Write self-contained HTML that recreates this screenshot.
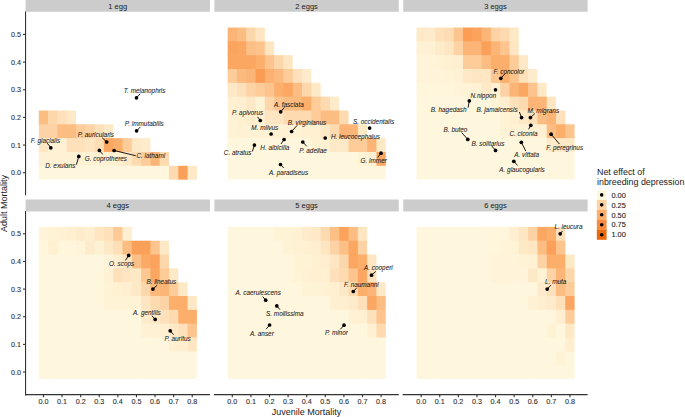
<!DOCTYPE html>
<html><head><meta charset="utf-8"><style>
html,body{margin:0;padding:0;background:#fff;width:685px;height:417px;overflow:hidden}
svg{display:block}
</style></head><body>
<svg width="685" height="417" viewBox="0 0 685 417" font-family='"Liberation Sans", sans-serif'><rect width="685" height="417" fill="#fff"/><rect x="38.80" y="110.49" width="10.00" height="14.53" fill="#fcbd82"/><rect x="48.10" y="110.49" width="10.00" height="14.53" fill="#fdd7ac"/><rect x="57.40" y="110.49" width="10.00" height="14.53" fill="#fee1bb"/><rect x="66.70" y="110.49" width="9.30" height="14.53" fill="#fee9c7"/><rect x="38.80" y="124.31" width="10.00" height="14.53" fill="#fdd3a5"/><rect x="48.10" y="124.31" width="10.00" height="14.53" fill="#fdd3a5"/><rect x="57.40" y="124.31" width="10.00" height="14.53" fill="#fcbd82"/><rect x="66.70" y="124.31" width="10.00" height="14.53" fill="#fcbd82"/><rect x="76.00" y="124.31" width="10.00" height="14.53" fill="#fdcc99"/><rect x="85.30" y="124.31" width="10.00" height="14.53" fill="#fdd3a5"/><rect x="94.60" y="124.31" width="10.00" height="14.53" fill="#fee1bb"/><rect x="103.90" y="124.31" width="9.30" height="14.53" fill="#fee9c7"/><rect x="38.80" y="138.14" width="10.00" height="14.53" fill="#fee6c2"/><rect x="48.10" y="138.14" width="10.00" height="14.53" fill="#fff1d4"/><rect x="57.40" y="138.14" width="10.00" height="14.53" fill="#fff1d4"/><rect x="66.70" y="138.14" width="10.00" height="14.53" fill="#fee1bb"/><rect x="76.00" y="138.14" width="10.00" height="14.53" fill="#fee1bb"/><rect x="85.30" y="138.14" width="10.00" height="14.53" fill="#fee6c2"/><rect x="94.60" y="138.14" width="10.00" height="14.53" fill="#feddb5"/><rect x="103.90" y="138.14" width="10.00" height="14.53" fill="#fba762"/><rect x="113.20" y="138.14" width="10.00" height="14.53" fill="#fcae6b"/><rect x="122.50" y="138.14" width="10.00" height="14.53" fill="#fdcc99"/><rect x="131.80" y="138.14" width="10.00" height="14.53" fill="#fee9c7"/><rect x="141.10" y="138.14" width="9.30" height="14.53" fill="#feebcb"/><rect x="38.80" y="151.96" width="10.00" height="14.53" fill="#fff1d4"/><rect x="48.10" y="151.96" width="10.00" height="14.53" fill="#fff1d4"/><rect x="57.40" y="151.96" width="10.00" height="14.53" fill="#fff1d4"/><rect x="66.70" y="151.96" width="10.00" height="14.53" fill="#fff1d4"/><rect x="76.00" y="151.96" width="10.00" height="14.53" fill="#fff1d4"/><rect x="85.30" y="151.96" width="10.00" height="14.53" fill="#fff1d4"/><rect x="94.60" y="151.96" width="10.00" height="14.53" fill="#fff1d4"/><rect x="103.90" y="151.96" width="10.00" height="14.53" fill="#fff0d2"/><rect x="113.20" y="151.96" width="10.00" height="14.53" fill="#fff0d2"/><rect x="122.50" y="151.96" width="10.00" height="14.53" fill="#fee9c7"/><rect x="131.80" y="151.96" width="10.00" height="14.53" fill="#fddab0"/><rect x="141.10" y="151.96" width="10.00" height="14.53" fill="#fdcc99"/><rect x="150.40" y="151.96" width="10.00" height="14.53" fill="#fcb577"/><rect x="159.70" y="151.96" width="9.30" height="14.53" fill="#fddab0"/><rect x="38.80" y="165.79" width="10.00" height="13.83" fill="#fff7dd"/><rect x="48.10" y="165.79" width="10.00" height="13.83" fill="#fff7dd"/><rect x="57.40" y="165.79" width="10.00" height="13.83" fill="#fff7dd"/><rect x="66.70" y="165.79" width="10.00" height="13.83" fill="#fff7dd"/><rect x="76.00" y="165.79" width="10.00" height="13.83" fill="#fff7dd"/><rect x="85.30" y="165.79" width="10.00" height="13.83" fill="#fff7dd"/><rect x="94.60" y="165.79" width="10.00" height="13.83" fill="#fff7dd"/><rect x="103.90" y="165.79" width="10.00" height="13.83" fill="#fff7dd"/><rect x="113.20" y="165.79" width="10.00" height="13.83" fill="#fff7dd"/><rect x="122.50" y="165.79" width="10.00" height="13.83" fill="#fff7dd"/><rect x="131.80" y="165.79" width="10.00" height="13.83" fill="#fff7dd"/><rect x="141.10" y="165.79" width="10.00" height="13.83" fill="#fff7dd"/><rect x="150.40" y="165.79" width="10.00" height="13.83" fill="#fff7dd"/><rect x="159.70" y="165.79" width="10.00" height="13.83" fill="#fff7dd"/><rect x="169.00" y="165.79" width="10.00" height="13.83" fill="#fddab0"/><rect x="178.30" y="165.79" width="10.00" height="13.83" fill="#fba059"/><rect x="187.60" y="165.79" width="9.30" height="13.83" fill="#fee9c7"/><rect x="227.65" y="27.54" width="10.00" height="14.53" fill="#fcb577"/><rect x="236.95" y="27.54" width="10.00" height="14.53" fill="#fcbd82"/><rect x="246.25" y="27.54" width="10.00" height="14.53" fill="#fdd7ac"/><rect x="255.55" y="27.54" width="9.30" height="14.53" fill="#fee6c2"/><rect x="227.65" y="41.36" width="10.00" height="14.53" fill="#fba45e"/><rect x="236.95" y="41.36" width="10.00" height="14.53" fill="#fba762"/><rect x="246.25" y="41.36" width="10.00" height="14.53" fill="#fcc087"/><rect x="255.55" y="41.36" width="10.00" height="14.53" fill="#fdc48e"/><rect x="264.85" y="41.36" width="9.30" height="14.53" fill="#fee6c2"/><rect x="227.65" y="55.19" width="10.00" height="14.53" fill="#fba762"/><rect x="236.95" y="55.19" width="10.00" height="14.53" fill="#fba762"/><rect x="246.25" y="55.19" width="10.00" height="14.53" fill="#fba762"/><rect x="255.55" y="55.19" width="10.00" height="14.53" fill="#fcae6b"/><rect x="264.85" y="55.19" width="10.00" height="14.53" fill="#fdc48e"/><rect x="274.15" y="55.19" width="10.00" height="14.53" fill="#fdd7ac"/><rect x="283.45" y="55.19" width="9.30" height="14.53" fill="#fee6c2"/><rect x="227.65" y="69.01" width="10.00" height="14.53" fill="#fdcc99"/><rect x="236.95" y="69.01" width="10.00" height="14.53" fill="#fcba7e"/><rect x="246.25" y="69.01" width="10.00" height="14.53" fill="#fcb577"/><rect x="255.55" y="69.01" width="10.00" height="14.53" fill="#fa9c53"/><rect x="264.85" y="69.01" width="10.00" height="14.53" fill="#fcb170"/><rect x="274.15" y="69.01" width="10.00" height="14.53" fill="#fcba7e"/><rect x="283.45" y="69.01" width="10.00" height="14.53" fill="#fdcc99"/><rect x="292.75" y="69.01" width="10.00" height="14.53" fill="#fee1bb"/><rect x="302.05" y="69.01" width="9.30" height="14.53" fill="#feebcb"/><rect x="227.65" y="82.84" width="10.00" height="14.53" fill="#fee9c7"/><rect x="236.95" y="82.84" width="10.00" height="14.53" fill="#fee1bb"/><rect x="246.25" y="82.84" width="10.00" height="14.53" fill="#fdd3a5"/><rect x="255.55" y="82.84" width="10.00" height="14.53" fill="#fdcc99"/><rect x="264.85" y="82.84" width="10.00" height="14.53" fill="#fdc48e"/><rect x="274.15" y="82.84" width="10.00" height="14.53" fill="#fcae6b"/><rect x="283.45" y="82.84" width="10.00" height="14.53" fill="#fba762"/><rect x="292.75" y="82.84" width="10.00" height="14.53" fill="#fcbd82"/><rect x="302.05" y="82.84" width="10.00" height="14.53" fill="#fdd7ac"/><rect x="311.35" y="82.84" width="9.30" height="14.53" fill="#fee9c7"/><rect x="227.65" y="96.66" width="10.00" height="14.53" fill="#fff0d2"/><rect x="236.95" y="96.66" width="10.00" height="14.53" fill="#ffeed0"/><rect x="246.25" y="96.66" width="10.00" height="14.53" fill="#fee9c7"/><rect x="255.55" y="96.66" width="10.00" height="14.53" fill="#fff3d6"/><rect x="264.85" y="96.66" width="10.00" height="14.53" fill="#fdd6a9"/><rect x="274.15" y="96.66" width="10.00" height="14.53" fill="#fdc48e"/><rect x="283.45" y="96.66" width="10.00" height="14.53" fill="#fcbd82"/><rect x="292.75" y="96.66" width="10.00" height="14.53" fill="#fcba7e"/><rect x="302.05" y="96.66" width="10.00" height="14.53" fill="#fcae6b"/><rect x="311.35" y="96.66" width="10.00" height="14.53" fill="#fdcc99"/><rect x="320.65" y="96.66" width="10.00" height="14.53" fill="#fddab0"/><rect x="329.95" y="96.66" width="9.30" height="14.53" fill="#feebcb"/><rect x="227.65" y="110.49" width="10.00" height="14.53" fill="#fff3d6"/><rect x="236.95" y="110.49" width="10.00" height="14.53" fill="#fff0d2"/><rect x="246.25" y="110.49" width="10.00" height="14.53" fill="#feedcd"/><rect x="255.55" y="110.49" width="10.00" height="14.53" fill="#fff0d2"/><rect x="264.85" y="110.49" width="10.00" height="14.53" fill="#fee6c2"/><rect x="274.15" y="110.49" width="10.00" height="14.53" fill="#fee6c2"/><rect x="283.45" y="110.49" width="10.00" height="14.53" fill="#fddab0"/><rect x="292.75" y="110.49" width="10.00" height="14.53" fill="#fddab0"/><rect x="302.05" y="110.49" width="10.00" height="14.53" fill="#fddab0"/><rect x="311.35" y="110.49" width="10.00" height="14.53" fill="#fdcc99"/><rect x="320.65" y="110.49" width="10.00" height="14.53" fill="#fcbd82"/><rect x="329.95" y="110.49" width="10.00" height="14.53" fill="#fcbd82"/><rect x="339.25" y="110.49" width="9.30" height="14.53" fill="#fddab0"/><rect x="227.65" y="124.31" width="10.00" height="14.53" fill="#fff3d6"/><rect x="236.95" y="124.31" width="10.00" height="14.53" fill="#fff1d4"/><rect x="246.25" y="124.31" width="10.00" height="14.53" fill="#fff1d4"/><rect x="255.55" y="124.31" width="10.00" height="14.53" fill="#fff1d4"/><rect x="264.85" y="124.31" width="10.00" height="14.53" fill="#fff1d4"/><rect x="274.15" y="124.31" width="10.00" height="14.53" fill="#fff1d4"/><rect x="283.45" y="124.31" width="10.00" height="14.53" fill="#fff1d4"/><rect x="292.75" y="124.31" width="10.00" height="14.53" fill="#fff3d6"/><rect x="302.05" y="124.31" width="10.00" height="14.53" fill="#fff0d2"/><rect x="311.35" y="124.31" width="10.00" height="14.53" fill="#fff0d2"/><rect x="320.65" y="124.31" width="10.00" height="14.53" fill="#fee9c7"/><rect x="329.95" y="124.31" width="10.00" height="14.53" fill="#fddab0"/><rect x="339.25" y="124.31" width="10.00" height="14.53" fill="#fcb577"/><rect x="348.55" y="124.31" width="10.00" height="14.53" fill="#fcb577"/><rect x="357.85" y="124.31" width="9.30" height="14.53" fill="#fee9c7"/><rect x="227.65" y="138.14" width="10.00" height="14.53" fill="#fff7dd"/><rect x="236.95" y="138.14" width="10.00" height="14.53" fill="#fff7dd"/><rect x="246.25" y="138.14" width="10.00" height="14.53" fill="#fff7dd"/><rect x="255.55" y="138.14" width="10.00" height="14.53" fill="#fff7dd"/><rect x="264.85" y="138.14" width="10.00" height="14.53" fill="#fff7dd"/><rect x="274.15" y="138.14" width="10.00" height="14.53" fill="#fff7dd"/><rect x="283.45" y="138.14" width="10.00" height="14.53" fill="#fff7dd"/><rect x="292.75" y="138.14" width="10.00" height="14.53" fill="#fff7dd"/><rect x="302.05" y="138.14" width="10.00" height="14.53" fill="#fff7dd"/><rect x="311.35" y="138.14" width="10.00" height="14.53" fill="#fff0d2"/><rect x="320.65" y="138.14" width="10.00" height="14.53" fill="#fff0d2"/><rect x="329.95" y="138.14" width="10.00" height="14.53" fill="#fee9c7"/><rect x="339.25" y="138.14" width="10.00" height="14.53" fill="#fee9c7"/><rect x="348.55" y="138.14" width="10.00" height="14.53" fill="#fdcc99"/><rect x="357.85" y="138.14" width="10.00" height="14.53" fill="#fdcc99"/><rect x="367.15" y="138.14" width="10.00" height="14.53" fill="#fcb577"/><rect x="376.45" y="138.14" width="9.30" height="14.53" fill="#fee9c7"/><rect x="227.65" y="151.96" width="10.00" height="14.53" fill="#fff7dd"/><rect x="236.95" y="151.96" width="10.00" height="14.53" fill="#fff7dd"/><rect x="246.25" y="151.96" width="10.00" height="14.53" fill="#fff7dd"/><rect x="255.55" y="151.96" width="10.00" height="14.53" fill="#fff7dd"/><rect x="264.85" y="151.96" width="10.00" height="14.53" fill="#fff7dd"/><rect x="274.15" y="151.96" width="10.00" height="14.53" fill="#fff7dd"/><rect x="283.45" y="151.96" width="10.00" height="14.53" fill="#fff7dd"/><rect x="292.75" y="151.96" width="10.00" height="14.53" fill="#fff7dd"/><rect x="302.05" y="151.96" width="10.00" height="14.53" fill="#fff7dd"/><rect x="311.35" y="151.96" width="10.00" height="14.53" fill="#fff7dd"/><rect x="320.65" y="151.96" width="10.00" height="14.53" fill="#fff7dd"/><rect x="329.95" y="151.96" width="10.00" height="14.53" fill="#fff7dd"/><rect x="339.25" y="151.96" width="10.00" height="14.53" fill="#fff7dd"/><rect x="348.55" y="151.96" width="10.00" height="14.53" fill="#fff7dd"/><rect x="357.85" y="151.96" width="10.00" height="14.53" fill="#fff3d6"/><rect x="367.15" y="151.96" width="10.00" height="14.53" fill="#fff0d2"/><rect x="376.45" y="151.96" width="9.30" height="14.53" fill="#fba762"/><rect x="227.65" y="165.79" width="10.00" height="13.83" fill="#fff7dd"/><rect x="236.95" y="165.79" width="10.00" height="13.83" fill="#fff7dd"/><rect x="246.25" y="165.79" width="10.00" height="13.83" fill="#fff7dd"/><rect x="255.55" y="165.79" width="10.00" height="13.83" fill="#fff7dd"/><rect x="264.85" y="165.79" width="10.00" height="13.83" fill="#fff7dd"/><rect x="274.15" y="165.79" width="10.00" height="13.83" fill="#fff7dd"/><rect x="283.45" y="165.79" width="10.00" height="13.83" fill="#fff7dd"/><rect x="292.75" y="165.79" width="10.00" height="13.83" fill="#fff7dd"/><rect x="302.05" y="165.79" width="10.00" height="13.83" fill="#fff7dd"/><rect x="311.35" y="165.79" width="10.00" height="13.83" fill="#fff7dd"/><rect x="320.65" y="165.79" width="10.00" height="13.83" fill="#fff7dd"/><rect x="329.95" y="165.79" width="10.00" height="13.83" fill="#fff7dd"/><rect x="339.25" y="165.79" width="10.00" height="13.83" fill="#fff7dd"/><rect x="348.55" y="165.79" width="10.00" height="13.83" fill="#fff7dd"/><rect x="357.85" y="165.79" width="10.00" height="13.83" fill="#fff7dd"/><rect x="367.15" y="165.79" width="10.00" height="13.83" fill="#fff7dd"/><rect x="376.45" y="165.79" width="9.30" height="13.83" fill="#fff7dd"/><rect x="416.50" y="27.54" width="10.00" height="14.53" fill="#fee9c7"/><rect x="425.80" y="27.54" width="10.00" height="14.53" fill="#feebcb"/><rect x="435.10" y="27.54" width="10.00" height="14.53" fill="#fee1bb"/><rect x="444.40" y="27.54" width="10.00" height="14.53" fill="#feddb5"/><rect x="453.70" y="27.54" width="10.00" height="14.53" fill="#fdc48e"/><rect x="463.00" y="27.54" width="10.00" height="14.53" fill="#fb9d55"/><rect x="472.30" y="27.54" width="10.00" height="14.53" fill="#fba35c"/><rect x="481.60" y="27.54" width="10.00" height="14.53" fill="#fcb577"/><rect x="490.90" y="27.54" width="10.00" height="14.53" fill="#fdd3a5"/><rect x="500.20" y="27.54" width="10.00" height="14.53" fill="#fddab0"/><rect x="509.50" y="27.54" width="9.30" height="14.53" fill="#fee9c7"/><rect x="416.50" y="41.36" width="10.00" height="14.53" fill="#fff1d4"/><rect x="425.80" y="41.36" width="10.00" height="14.53" fill="#fff1d4"/><rect x="435.10" y="41.36" width="10.00" height="14.53" fill="#feebcb"/><rect x="444.40" y="41.36" width="10.00" height="14.53" fill="#fee6c2"/><rect x="453.70" y="41.36" width="10.00" height="14.53" fill="#fdd3a5"/><rect x="463.00" y="41.36" width="10.00" height="14.53" fill="#fcb577"/><rect x="472.30" y="41.36" width="10.00" height="14.53" fill="#fcb577"/><rect x="481.60" y="41.36" width="10.00" height="14.53" fill="#fba059"/><rect x="490.90" y="41.36" width="10.00" height="14.53" fill="#fcb577"/><rect x="500.20" y="41.36" width="10.00" height="14.53" fill="#fdc48e"/><rect x="509.50" y="41.36" width="9.30" height="14.53" fill="#fee6c2"/><rect x="416.50" y="55.19" width="10.00" height="14.53" fill="#fff4d9"/><rect x="425.80" y="55.19" width="10.00" height="14.53" fill="#fff4d9"/><rect x="435.10" y="55.19" width="10.00" height="14.53" fill="#fff3d6"/><rect x="444.40" y="55.19" width="10.00" height="14.53" fill="#fff0d2"/><rect x="453.70" y="55.19" width="10.00" height="14.53" fill="#ffeed0"/><rect x="463.00" y="55.19" width="10.00" height="14.53" fill="#fdcc99"/><rect x="472.30" y="55.19" width="10.00" height="14.53" fill="#fdcc99"/><rect x="481.60" y="55.19" width="10.00" height="14.53" fill="#fcbd82"/><rect x="490.90" y="55.19" width="10.00" height="14.53" fill="#fcae6b"/><rect x="500.20" y="55.19" width="10.00" height="14.53" fill="#fcae6b"/><rect x="509.50" y="55.19" width="10.00" height="14.53" fill="#fdcc99"/><rect x="518.80" y="55.19" width="9.30" height="14.53" fill="#fee9c7"/><rect x="416.50" y="69.01" width="10.00" height="14.53" fill="#fff4d9"/><rect x="425.80" y="69.01" width="10.00" height="14.53" fill="#fff4d9"/><rect x="435.10" y="69.01" width="10.00" height="14.53" fill="#fff4d9"/><rect x="444.40" y="69.01" width="10.00" height="14.53" fill="#fff3d6"/><rect x="453.70" y="69.01" width="10.00" height="14.53" fill="#fff1d4"/><rect x="463.00" y="69.01" width="10.00" height="14.53" fill="#fee9c7"/><rect x="472.30" y="69.01" width="10.00" height="14.53" fill="#fee6c2"/><rect x="481.60" y="69.01" width="10.00" height="14.53" fill="#fee6c2"/><rect x="490.90" y="69.01" width="10.00" height="14.53" fill="#fdc792"/><rect x="500.20" y="69.01" width="10.00" height="14.53" fill="#fcae6b"/><rect x="509.50" y="69.01" width="10.00" height="14.53" fill="#fdc48e"/><rect x="518.80" y="69.01" width="10.00" height="14.53" fill="#fee1bb"/><rect x="528.10" y="69.01" width="9.30" height="14.53" fill="#feebcb"/><rect x="416.50" y="82.84" width="10.00" height="14.53" fill="#fff6db"/><rect x="425.80" y="82.84" width="10.00" height="14.53" fill="#fff6db"/><rect x="435.10" y="82.84" width="10.00" height="14.53" fill="#fff6db"/><rect x="444.40" y="82.84" width="10.00" height="14.53" fill="#fff6db"/><rect x="453.70" y="82.84" width="10.00" height="14.53" fill="#fff4d9"/><rect x="463.00" y="82.84" width="10.00" height="14.53" fill="#fff3d6"/><rect x="472.30" y="82.84" width="10.00" height="14.53" fill="#fff1d4"/><rect x="481.60" y="82.84" width="10.00" height="14.53" fill="#fee9c7"/><rect x="490.90" y="82.84" width="10.00" height="14.53" fill="#fff0d2"/><rect x="500.20" y="82.84" width="10.00" height="14.53" fill="#fdd3a5"/><rect x="509.50" y="82.84" width="10.00" height="14.53" fill="#fcb577"/><rect x="518.80" y="82.84" width="10.00" height="14.53" fill="#fba762"/><rect x="528.10" y="82.84" width="10.00" height="14.53" fill="#fdc48e"/><rect x="537.40" y="82.84" width="9.30" height="14.53" fill="#fee9c7"/><rect x="416.50" y="96.66" width="10.00" height="14.53" fill="#fff7dd"/><rect x="425.80" y="96.66" width="10.00" height="14.53" fill="#fff7dd"/><rect x="435.10" y="96.66" width="10.00" height="14.53" fill="#fff7dd"/><rect x="444.40" y="96.66" width="10.00" height="14.53" fill="#fff7dd"/><rect x="453.70" y="96.66" width="10.00" height="14.53" fill="#fff7dd"/><rect x="463.00" y="96.66" width="10.00" height="14.53" fill="#fff7dd"/><rect x="472.30" y="96.66" width="10.00" height="14.53" fill="#fff7dd"/><rect x="481.60" y="96.66" width="10.00" height="14.53" fill="#fff7dd"/><rect x="490.90" y="96.66" width="10.00" height="14.53" fill="#fff3d6"/><rect x="500.20" y="96.66" width="10.00" height="14.53" fill="#ffeed0"/><rect x="509.50" y="96.66" width="10.00" height="14.53" fill="#fee1bb"/><rect x="518.80" y="96.66" width="10.00" height="14.53" fill="#fddab0"/><rect x="528.10" y="96.66" width="10.00" height="14.53" fill="#fcb577"/><rect x="537.40" y="96.66" width="10.00" height="14.53" fill="#fcb577"/><rect x="546.70" y="96.66" width="9.30" height="14.53" fill="#fee6c2"/><rect x="416.50" y="110.49" width="10.00" height="14.53" fill="#fff7dd"/><rect x="425.80" y="110.49" width="10.00" height="14.53" fill="#fff7dd"/><rect x="435.10" y="110.49" width="10.00" height="14.53" fill="#fff7dd"/><rect x="444.40" y="110.49" width="10.00" height="14.53" fill="#fff7dd"/><rect x="453.70" y="110.49" width="10.00" height="14.53" fill="#fff7dd"/><rect x="463.00" y="110.49" width="10.00" height="14.53" fill="#fff7dd"/><rect x="472.30" y="110.49" width="10.00" height="14.53" fill="#fff7dd"/><rect x="481.60" y="110.49" width="10.00" height="14.53" fill="#fff7dd"/><rect x="490.90" y="110.49" width="10.00" height="14.53" fill="#fff7dd"/><rect x="500.20" y="110.49" width="10.00" height="14.53" fill="#fff3d6"/><rect x="509.50" y="110.49" width="10.00" height="14.53" fill="#fff0d2"/><rect x="518.80" y="110.49" width="10.00" height="14.53" fill="#fee9c7"/><rect x="528.10" y="110.49" width="10.00" height="14.53" fill="#fee1bb"/><rect x="537.40" y="110.49" width="10.00" height="14.53" fill="#fcbd82"/><rect x="546.70" y="110.49" width="10.00" height="14.53" fill="#fcb577"/><rect x="556.00" y="110.49" width="9.30" height="14.53" fill="#fee1bb"/><rect x="416.50" y="124.31" width="10.00" height="14.53" fill="#fff7dd"/><rect x="425.80" y="124.31" width="10.00" height="14.53" fill="#fff7dd"/><rect x="435.10" y="124.31" width="10.00" height="14.53" fill="#fff7dd"/><rect x="444.40" y="124.31" width="10.00" height="14.53" fill="#fff7dd"/><rect x="453.70" y="124.31" width="10.00" height="14.53" fill="#fff7dd"/><rect x="463.00" y="124.31" width="10.00" height="14.53" fill="#fff7dd"/><rect x="472.30" y="124.31" width="10.00" height="14.53" fill="#fff7dd"/><rect x="481.60" y="124.31" width="10.00" height="14.53" fill="#fff7dd"/><rect x="490.90" y="124.31" width="10.00" height="14.53" fill="#fff7dd"/><rect x="500.20" y="124.31" width="10.00" height="14.53" fill="#fff3d6"/><rect x="509.50" y="124.31" width="10.00" height="14.53" fill="#fff1d4"/><rect x="518.80" y="124.31" width="10.00" height="14.53" fill="#fff1d4"/><rect x="528.10" y="124.31" width="10.00" height="14.53" fill="#fff0d2"/><rect x="537.40" y="124.31" width="10.00" height="14.53" fill="#fff0d2"/><rect x="546.70" y="124.31" width="10.00" height="14.53" fill="#fcbd82"/><rect x="556.00" y="124.31" width="10.00" height="14.53" fill="#fcae6b"/><rect x="565.30" y="124.31" width="9.30" height="14.53" fill="#fdc48e"/><rect x="416.50" y="138.14" width="10.00" height="14.53" fill="#fff7dd"/><rect x="425.80" y="138.14" width="10.00" height="14.53" fill="#fff7dd"/><rect x="435.10" y="138.14" width="10.00" height="14.53" fill="#fff7dd"/><rect x="444.40" y="138.14" width="10.00" height="14.53" fill="#fff7dd"/><rect x="453.70" y="138.14" width="10.00" height="14.53" fill="#fff7dd"/><rect x="463.00" y="138.14" width="10.00" height="14.53" fill="#fff7dd"/><rect x="472.30" y="138.14" width="10.00" height="14.53" fill="#fff7dd"/><rect x="481.60" y="138.14" width="10.00" height="14.53" fill="#fff7dd"/><rect x="490.90" y="138.14" width="10.00" height="14.53" fill="#fff7dd"/><rect x="500.20" y="138.14" width="10.00" height="14.53" fill="#fff7dd"/><rect x="509.50" y="138.14" width="10.00" height="14.53" fill="#fff7dd"/><rect x="518.80" y="138.14" width="10.00" height="14.53" fill="#fff7dd"/><rect x="528.10" y="138.14" width="10.00" height="14.53" fill="#fff7dd"/><rect x="537.40" y="138.14" width="10.00" height="14.53" fill="#fff7dd"/><rect x="546.70" y="138.14" width="10.00" height="14.53" fill="#feebcb"/><rect x="556.00" y="138.14" width="10.00" height="14.53" fill="#fee9c7"/><rect x="565.30" y="138.14" width="9.30" height="14.53" fill="#fee9c7"/><rect x="416.50" y="151.96" width="10.00" height="14.53" fill="#fff7dd"/><rect x="425.80" y="151.96" width="10.00" height="14.53" fill="#fff7dd"/><rect x="435.10" y="151.96" width="10.00" height="14.53" fill="#fff7dd"/><rect x="444.40" y="151.96" width="10.00" height="14.53" fill="#fff7dd"/><rect x="453.70" y="151.96" width="10.00" height="14.53" fill="#fff7dd"/><rect x="463.00" y="151.96" width="10.00" height="14.53" fill="#fff7dd"/><rect x="472.30" y="151.96" width="10.00" height="14.53" fill="#fff7dd"/><rect x="481.60" y="151.96" width="10.00" height="14.53" fill="#fff7dd"/><rect x="490.90" y="151.96" width="10.00" height="14.53" fill="#fff7dd"/><rect x="500.20" y="151.96" width="10.00" height="14.53" fill="#fff7dd"/><rect x="509.50" y="151.96" width="10.00" height="14.53" fill="#fff7dd"/><rect x="518.80" y="151.96" width="10.00" height="14.53" fill="#fff7dd"/><rect x="528.10" y="151.96" width="10.00" height="14.53" fill="#fff7dd"/><rect x="537.40" y="151.96" width="10.00" height="14.53" fill="#fff7dd"/><rect x="546.70" y="151.96" width="10.00" height="14.53" fill="#fff7dd"/><rect x="556.00" y="151.96" width="10.00" height="14.53" fill="#fff7dd"/><rect x="565.30" y="151.96" width="9.30" height="14.53" fill="#fff7dd"/><rect x="416.50" y="165.79" width="10.00" height="13.83" fill="#fff7dd"/><rect x="425.80" y="165.79" width="10.00" height="13.83" fill="#fff7dd"/><rect x="435.10" y="165.79" width="10.00" height="13.83" fill="#fff7dd"/><rect x="444.40" y="165.79" width="10.00" height="13.83" fill="#fff7dd"/><rect x="453.70" y="165.79" width="10.00" height="13.83" fill="#fff7dd"/><rect x="463.00" y="165.79" width="10.00" height="13.83" fill="#fff7dd"/><rect x="472.30" y="165.79" width="10.00" height="13.83" fill="#fff7dd"/><rect x="481.60" y="165.79" width="10.00" height="13.83" fill="#fff7dd"/><rect x="490.90" y="165.79" width="10.00" height="13.83" fill="#fff7dd"/><rect x="500.20" y="165.79" width="10.00" height="13.83" fill="#fff7dd"/><rect x="509.50" y="165.79" width="10.00" height="13.83" fill="#fff7dd"/><rect x="518.80" y="165.79" width="10.00" height="13.83" fill="#fff7dd"/><rect x="528.10" y="165.79" width="10.00" height="13.83" fill="#fff7dd"/><rect x="537.40" y="165.79" width="10.00" height="13.83" fill="#fff7dd"/><rect x="546.70" y="165.79" width="10.00" height="13.83" fill="#fff7dd"/><rect x="556.00" y="165.79" width="10.00" height="13.83" fill="#fff7dd"/><rect x="565.30" y="165.79" width="9.30" height="13.83" fill="#fff7dd"/><rect x="38.80" y="226.89" width="10.00" height="14.53" fill="#fff4d9"/><rect x="48.10" y="226.89" width="10.00" height="14.53" fill="#fff3d6"/><rect x="57.40" y="226.89" width="10.00" height="14.53" fill="#fff1d4"/><rect x="66.70" y="226.89" width="10.00" height="14.53" fill="#ffeed0"/><rect x="76.00" y="226.89" width="10.00" height="14.53" fill="#feebcb"/><rect x="85.30" y="226.89" width="10.00" height="14.53" fill="#ffeed0"/><rect x="94.60" y="226.89" width="10.00" height="14.53" fill="#fee6c2"/><rect x="103.90" y="226.89" width="10.00" height="14.53" fill="#fee1bb"/><rect x="113.20" y="226.89" width="10.00" height="14.53" fill="#fdc995"/><rect x="122.50" y="226.89" width="9.30" height="14.53" fill="#ffeed0"/><rect x="38.80" y="240.71" width="10.00" height="14.53" fill="#fff6db"/><rect x="48.10" y="240.71" width="10.00" height="14.53" fill="#fff0d2"/><rect x="57.40" y="240.71" width="10.00" height="14.53" fill="#fff6db"/><rect x="66.70" y="240.71" width="10.00" height="14.53" fill="#fff6db"/><rect x="76.00" y="240.71" width="10.00" height="14.53" fill="#fff4d9"/><rect x="85.30" y="240.71" width="10.00" height="14.53" fill="#feebcb"/><rect x="94.60" y="240.71" width="10.00" height="14.53" fill="#fff1d4"/><rect x="103.90" y="240.71" width="10.00" height="14.53" fill="#fee9c7"/><rect x="113.20" y="240.71" width="10.00" height="14.53" fill="#fedfb7"/><rect x="122.50" y="240.71" width="10.00" height="14.53" fill="#fcbd82"/><rect x="131.80" y="240.71" width="10.00" height="14.53" fill="#fba059"/><rect x="141.10" y="240.71" width="10.00" height="14.53" fill="#fba059"/><rect x="150.40" y="240.71" width="10.00" height="14.53" fill="#fdc48e"/><rect x="159.70" y="240.71" width="9.30" height="14.53" fill="#fee9c7"/><rect x="38.80" y="254.54" width="10.00" height="14.53" fill="#fff7dd"/><rect x="48.10" y="254.54" width="10.00" height="14.53" fill="#fff7dd"/><rect x="57.40" y="254.54" width="10.00" height="14.53" fill="#fff7dd"/><rect x="66.70" y="254.54" width="10.00" height="14.53" fill="#fff7dd"/><rect x="76.00" y="254.54" width="10.00" height="14.53" fill="#fff7dd"/><rect x="85.30" y="254.54" width="10.00" height="14.53" fill="#fff7dd"/><rect x="94.60" y="254.54" width="10.00" height="14.53" fill="#fff7dd"/><rect x="103.90" y="254.54" width="10.00" height="14.53" fill="#fff4d9"/><rect x="113.20" y="254.54" width="10.00" height="14.53" fill="#ffeed0"/><rect x="122.50" y="254.54" width="10.00" height="14.53" fill="#fee6c2"/><rect x="131.80" y="254.54" width="10.00" height="14.53" fill="#fcc087"/><rect x="141.10" y="254.54" width="10.00" height="14.53" fill="#fcab67"/><rect x="150.40" y="254.54" width="10.00" height="14.53" fill="#fba35c"/><rect x="159.70" y="254.54" width="9.30" height="14.53" fill="#fdd7ac"/><rect x="38.80" y="268.36" width="10.00" height="14.53" fill="#fff7dd"/><rect x="48.10" y="268.36" width="10.00" height="14.53" fill="#fff7dd"/><rect x="57.40" y="268.36" width="10.00" height="14.53" fill="#fff7dd"/><rect x="66.70" y="268.36" width="10.00" height="14.53" fill="#fff7dd"/><rect x="76.00" y="268.36" width="10.00" height="14.53" fill="#fff7dd"/><rect x="85.30" y="268.36" width="10.00" height="14.53" fill="#fff7dd"/><rect x="94.60" y="268.36" width="10.00" height="14.53" fill="#fff7dd"/><rect x="103.90" y="268.36" width="10.00" height="14.53" fill="#fff1d4"/><rect x="113.20" y="268.36" width="10.00" height="14.53" fill="#fee1bb"/><rect x="122.50" y="268.36" width="10.00" height="14.53" fill="#fee6c2"/><rect x="131.80" y="268.36" width="10.00" height="14.53" fill="#fee9c7"/><rect x="141.10" y="268.36" width="10.00" height="14.53" fill="#fdc792"/><rect x="150.40" y="268.36" width="10.00" height="14.53" fill="#fba762"/><rect x="159.70" y="268.36" width="10.00" height="14.53" fill="#fdcc99"/><rect x="169.00" y="268.36" width="9.30" height="14.53" fill="#fee9c7"/><rect x="38.80" y="282.19" width="10.00" height="14.53" fill="#fff7dd"/><rect x="48.10" y="282.19" width="10.00" height="14.53" fill="#fff7dd"/><rect x="57.40" y="282.19" width="10.00" height="14.53" fill="#fff7dd"/><rect x="66.70" y="282.19" width="10.00" height="14.53" fill="#fff7dd"/><rect x="76.00" y="282.19" width="10.00" height="14.53" fill="#fff7dd"/><rect x="85.30" y="282.19" width="10.00" height="14.53" fill="#fff7dd"/><rect x="94.60" y="282.19" width="10.00" height="14.53" fill="#fff7dd"/><rect x="103.90" y="282.19" width="10.00" height="14.53" fill="#fff3d6"/><rect x="113.20" y="282.19" width="10.00" height="14.53" fill="#fff0d2"/><rect x="122.50" y="282.19" width="10.00" height="14.53" fill="#ffeed0"/><rect x="131.80" y="282.19" width="10.00" height="14.53" fill="#fee9c7"/><rect x="141.10" y="282.19" width="10.00" height="14.53" fill="#fdd7ac"/><rect x="150.40" y="282.19" width="10.00" height="14.53" fill="#fcb87b"/><rect x="159.70" y="282.19" width="10.00" height="14.53" fill="#fcb577"/><rect x="169.00" y="282.19" width="10.00" height="14.53" fill="#fdcc99"/><rect x="178.30" y="282.19" width="9.30" height="14.53" fill="#fee9c7"/><rect x="38.80" y="296.01" width="10.00" height="14.53" fill="#fff7dd"/><rect x="48.10" y="296.01" width="10.00" height="14.53" fill="#fff7dd"/><rect x="57.40" y="296.01" width="10.00" height="14.53" fill="#fff7dd"/><rect x="66.70" y="296.01" width="10.00" height="14.53" fill="#fff7dd"/><rect x="76.00" y="296.01" width="10.00" height="14.53" fill="#fff7dd"/><rect x="85.30" y="296.01" width="10.00" height="14.53" fill="#fff7dd"/><rect x="94.60" y="296.01" width="10.00" height="14.53" fill="#fff7dd"/><rect x="103.90" y="296.01" width="10.00" height="14.53" fill="#fff3d6"/><rect x="113.20" y="296.01" width="10.00" height="14.53" fill="#fff3d6"/><rect x="122.50" y="296.01" width="10.00" height="14.53" fill="#fff3d6"/><rect x="131.80" y="296.01" width="10.00" height="14.53" fill="#fff3d6"/><rect x="141.10" y="296.01" width="10.00" height="14.53" fill="#fee6c2"/><rect x="150.40" y="296.01" width="10.00" height="14.53" fill="#fddab0"/><rect x="159.70" y="296.01" width="10.00" height="14.53" fill="#fdd3a5"/><rect x="169.00" y="296.01" width="10.00" height="14.53" fill="#fcae6b"/><rect x="178.30" y="296.01" width="10.00" height="14.53" fill="#fcae6b"/><rect x="187.60" y="296.01" width="9.30" height="14.53" fill="#fee9c7"/><rect x="38.80" y="309.84" width="10.00" height="14.53" fill="#fff7dd"/><rect x="48.10" y="309.84" width="10.00" height="14.53" fill="#fff7dd"/><rect x="57.40" y="309.84" width="10.00" height="14.53" fill="#fff7dd"/><rect x="66.70" y="309.84" width="10.00" height="14.53" fill="#fff7dd"/><rect x="76.00" y="309.84" width="10.00" height="14.53" fill="#fff7dd"/><rect x="85.30" y="309.84" width="10.00" height="14.53" fill="#fff7dd"/><rect x="94.60" y="309.84" width="10.00" height="14.53" fill="#fff7dd"/><rect x="103.90" y="309.84" width="10.00" height="14.53" fill="#fff7dd"/><rect x="113.20" y="309.84" width="10.00" height="14.53" fill="#fff7dd"/><rect x="122.50" y="309.84" width="10.00" height="14.53" fill="#fff7dd"/><rect x="131.80" y="309.84" width="10.00" height="14.53" fill="#fff7dd"/><rect x="141.10" y="309.84" width="10.00" height="14.53" fill="#feebcb"/><rect x="150.40" y="309.84" width="10.00" height="14.53" fill="#fee9c7"/><rect x="159.70" y="309.84" width="10.00" height="14.53" fill="#fee1bb"/><rect x="169.00" y="309.84" width="10.00" height="14.53" fill="#fddab0"/><rect x="178.30" y="309.84" width="10.00" height="14.53" fill="#fcae6b"/><rect x="187.60" y="309.84" width="9.30" height="14.53" fill="#fcae6b"/><rect x="38.80" y="323.66" width="10.00" height="14.53" fill="#fff7dd"/><rect x="48.10" y="323.66" width="10.00" height="14.53" fill="#fff7dd"/><rect x="57.40" y="323.66" width="10.00" height="14.53" fill="#fff7dd"/><rect x="66.70" y="323.66" width="10.00" height="14.53" fill="#fff7dd"/><rect x="76.00" y="323.66" width="10.00" height="14.53" fill="#fff7dd"/><rect x="85.30" y="323.66" width="10.00" height="14.53" fill="#fff7dd"/><rect x="94.60" y="323.66" width="10.00" height="14.53" fill="#fff7dd"/><rect x="103.90" y="323.66" width="10.00" height="14.53" fill="#fff7dd"/><rect x="113.20" y="323.66" width="10.00" height="14.53" fill="#fff7dd"/><rect x="122.50" y="323.66" width="10.00" height="14.53" fill="#fff7dd"/><rect x="131.80" y="323.66" width="10.00" height="14.53" fill="#fff7dd"/><rect x="141.10" y="323.66" width="10.00" height="14.53" fill="#fff1d4"/><rect x="150.40" y="323.66" width="10.00" height="14.53" fill="#fff1d4"/><rect x="159.70" y="323.66" width="10.00" height="14.53" fill="#fff0d2"/><rect x="169.00" y="323.66" width="10.00" height="14.53" fill="#fee9c7"/><rect x="178.30" y="323.66" width="10.00" height="14.53" fill="#fee1bb"/><rect x="187.60" y="323.66" width="9.30" height="14.53" fill="#fdc48e"/><rect x="38.80" y="337.49" width="10.00" height="14.53" fill="#fff7dd"/><rect x="48.10" y="337.49" width="10.00" height="14.53" fill="#fff7dd"/><rect x="57.40" y="337.49" width="10.00" height="14.53" fill="#fff7dd"/><rect x="66.70" y="337.49" width="10.00" height="14.53" fill="#fff7dd"/><rect x="76.00" y="337.49" width="10.00" height="14.53" fill="#fff7dd"/><rect x="85.30" y="337.49" width="10.00" height="14.53" fill="#fff7dd"/><rect x="94.60" y="337.49" width="10.00" height="14.53" fill="#fff7dd"/><rect x="103.90" y="337.49" width="10.00" height="14.53" fill="#fff7dd"/><rect x="113.20" y="337.49" width="10.00" height="14.53" fill="#fff7dd"/><rect x="122.50" y="337.49" width="10.00" height="14.53" fill="#fff7dd"/><rect x="131.80" y="337.49" width="10.00" height="14.53" fill="#fff7dd"/><rect x="141.10" y="337.49" width="10.00" height="14.53" fill="#fff7dd"/><rect x="150.40" y="337.49" width="10.00" height="14.53" fill="#fff7dd"/><rect x="159.70" y="337.49" width="10.00" height="14.53" fill="#fff7dd"/><rect x="169.00" y="337.49" width="10.00" height="14.53" fill="#fff0d2"/><rect x="178.30" y="337.49" width="10.00" height="14.53" fill="#ffeed0"/><rect x="187.60" y="337.49" width="9.30" height="14.53" fill="#fee6c2"/><rect x="38.80" y="351.31" width="10.00" height="14.53" fill="#fff7dd"/><rect x="48.10" y="351.31" width="10.00" height="14.53" fill="#fff7dd"/><rect x="57.40" y="351.31" width="10.00" height="14.53" fill="#fff7dd"/><rect x="66.70" y="351.31" width="10.00" height="14.53" fill="#fff7dd"/><rect x="76.00" y="351.31" width="10.00" height="14.53" fill="#fff7dd"/><rect x="85.30" y="351.31" width="10.00" height="14.53" fill="#fff7dd"/><rect x="94.60" y="351.31" width="10.00" height="14.53" fill="#fff7dd"/><rect x="103.90" y="351.31" width="10.00" height="14.53" fill="#fff7dd"/><rect x="113.20" y="351.31" width="10.00" height="14.53" fill="#fff7dd"/><rect x="122.50" y="351.31" width="10.00" height="14.53" fill="#fff7dd"/><rect x="131.80" y="351.31" width="10.00" height="14.53" fill="#fff7dd"/><rect x="141.10" y="351.31" width="10.00" height="14.53" fill="#fff7dd"/><rect x="150.40" y="351.31" width="10.00" height="14.53" fill="#fff7dd"/><rect x="159.70" y="351.31" width="10.00" height="14.53" fill="#fff7dd"/><rect x="169.00" y="351.31" width="10.00" height="14.53" fill="#fff7dd"/><rect x="178.30" y="351.31" width="10.00" height="14.53" fill="#fff7dd"/><rect x="187.60" y="351.31" width="9.30" height="14.53" fill="#fff7dd"/><rect x="38.80" y="365.14" width="10.00" height="13.83" fill="#fff7dd"/><rect x="48.10" y="365.14" width="10.00" height="13.83" fill="#fff7dd"/><rect x="57.40" y="365.14" width="10.00" height="13.83" fill="#fff7dd"/><rect x="66.70" y="365.14" width="10.00" height="13.83" fill="#fff7dd"/><rect x="76.00" y="365.14" width="10.00" height="13.83" fill="#fff7dd"/><rect x="85.30" y="365.14" width="10.00" height="13.83" fill="#fff7dd"/><rect x="94.60" y="365.14" width="10.00" height="13.83" fill="#fff7dd"/><rect x="103.90" y="365.14" width="10.00" height="13.83" fill="#fff7dd"/><rect x="113.20" y="365.14" width="10.00" height="13.83" fill="#fff7dd"/><rect x="122.50" y="365.14" width="10.00" height="13.83" fill="#fff7dd"/><rect x="131.80" y="365.14" width="10.00" height="13.83" fill="#fff7dd"/><rect x="141.10" y="365.14" width="10.00" height="13.83" fill="#fff7dd"/><rect x="150.40" y="365.14" width="10.00" height="13.83" fill="#fff7dd"/><rect x="159.70" y="365.14" width="10.00" height="13.83" fill="#fff7dd"/><rect x="169.00" y="365.14" width="10.00" height="13.83" fill="#fff7dd"/><rect x="178.30" y="365.14" width="10.00" height="13.83" fill="#fff7dd"/><rect x="187.60" y="365.14" width="9.30" height="13.83" fill="#fff7dd"/><rect x="227.65" y="226.89" width="10.00" height="14.53" fill="#fff7dd"/><rect x="236.95" y="226.89" width="10.00" height="14.53" fill="#fff7dd"/><rect x="246.25" y="226.89" width="10.00" height="14.53" fill="#fff7dd"/><rect x="255.55" y="226.89" width="10.00" height="14.53" fill="#fff7dd"/><rect x="264.85" y="226.89" width="10.00" height="14.53" fill="#fff7dd"/><rect x="274.15" y="226.89" width="10.00" height="14.53" fill="#fff3d6"/><rect x="283.45" y="226.89" width="10.00" height="14.53" fill="#fff3d6"/><rect x="292.75" y="226.89" width="10.00" height="14.53" fill="#fff1d4"/><rect x="302.05" y="226.89" width="10.00" height="14.53" fill="#feebcb"/><rect x="311.35" y="226.89" width="10.00" height="14.53" fill="#fee9c7"/><rect x="320.65" y="226.89" width="10.00" height="14.53" fill="#fddab0"/><rect x="329.95" y="226.89" width="10.00" height="14.53" fill="#fcc087"/><rect x="339.25" y="226.89" width="10.00" height="14.53" fill="#fba35c"/><rect x="348.55" y="226.89" width="10.00" height="14.53" fill="#fcbd82"/><rect x="357.85" y="226.89" width="9.30" height="14.53" fill="#fee6c2"/><rect x="227.65" y="240.71" width="10.00" height="14.53" fill="#fff7dd"/><rect x="236.95" y="240.71" width="10.00" height="14.53" fill="#fff7dd"/><rect x="246.25" y="240.71" width="10.00" height="14.53" fill="#fff7dd"/><rect x="255.55" y="240.71" width="10.00" height="14.53" fill="#fff7dd"/><rect x="264.85" y="240.71" width="10.00" height="14.53" fill="#fff7dd"/><rect x="274.15" y="240.71" width="10.00" height="14.53" fill="#fff7dd"/><rect x="283.45" y="240.71" width="10.00" height="14.53" fill="#fff3d6"/><rect x="292.75" y="240.71" width="10.00" height="14.53" fill="#fff1d4"/><rect x="302.05" y="240.71" width="10.00" height="14.53" fill="#fff0d2"/><rect x="311.35" y="240.71" width="10.00" height="14.53" fill="#ffeed0"/><rect x="320.65" y="240.71" width="10.00" height="14.53" fill="#fee6c2"/><rect x="329.95" y="240.71" width="10.00" height="14.53" fill="#fdd3a5"/><rect x="339.25" y="240.71" width="10.00" height="14.53" fill="#fcc087"/><rect x="348.55" y="240.71" width="10.00" height="14.53" fill="#fba762"/><rect x="357.85" y="240.71" width="9.30" height="14.53" fill="#fdd3a5"/><rect x="227.65" y="254.54" width="10.00" height="14.53" fill="#fff7dd"/><rect x="236.95" y="254.54" width="10.00" height="14.53" fill="#fff7dd"/><rect x="246.25" y="254.54" width="10.00" height="14.53" fill="#fff7dd"/><rect x="255.55" y="254.54" width="10.00" height="14.53" fill="#fff7dd"/><rect x="264.85" y="254.54" width="10.00" height="14.53" fill="#fff7dd"/><rect x="274.15" y="254.54" width="10.00" height="14.53" fill="#fff7dd"/><rect x="283.45" y="254.54" width="10.00" height="14.53" fill="#fff7dd"/><rect x="292.75" y="254.54" width="10.00" height="14.53" fill="#fff3d6"/><rect x="302.05" y="254.54" width="10.00" height="14.53" fill="#fff3d6"/><rect x="311.35" y="254.54" width="10.00" height="14.53" fill="#fff0d2"/><rect x="320.65" y="254.54" width="10.00" height="14.53" fill="#ffeed0"/><rect x="329.95" y="254.54" width="10.00" height="14.53" fill="#fee6c2"/><rect x="339.25" y="254.54" width="10.00" height="14.53" fill="#fdd7ac"/><rect x="348.55" y="254.54" width="10.00" height="14.53" fill="#fba762"/><rect x="357.85" y="254.54" width="10.00" height="14.53" fill="#fcae6b"/><rect x="367.15" y="254.54" width="9.30" height="14.53" fill="#fee6c2"/><rect x="227.65" y="268.36" width="10.00" height="14.53" fill="#fff7dd"/><rect x="236.95" y="268.36" width="10.00" height="14.53" fill="#fff7dd"/><rect x="246.25" y="268.36" width="10.00" height="14.53" fill="#fff7dd"/><rect x="255.55" y="268.36" width="10.00" height="14.53" fill="#fff7dd"/><rect x="264.85" y="268.36" width="10.00" height="14.53" fill="#fff7dd"/><rect x="274.15" y="268.36" width="10.00" height="14.53" fill="#fff7dd"/><rect x="283.45" y="268.36" width="10.00" height="14.53" fill="#fff7dd"/><rect x="292.75" y="268.36" width="10.00" height="14.53" fill="#fff3d6"/><rect x="302.05" y="268.36" width="10.00" height="14.53" fill="#fff1d4"/><rect x="311.35" y="268.36" width="10.00" height="14.53" fill="#fff0d2"/><rect x="320.65" y="268.36" width="10.00" height="14.53" fill="#fff0d2"/><rect x="329.95" y="268.36" width="10.00" height="14.53" fill="#fee1bb"/><rect x="339.25" y="268.36" width="10.00" height="14.53" fill="#fddab0"/><rect x="348.55" y="268.36" width="10.00" height="14.53" fill="#fdc48e"/><rect x="357.85" y="268.36" width="10.00" height="14.53" fill="#fba762"/><rect x="367.15" y="268.36" width="9.30" height="14.53" fill="#fee1bb"/><rect x="227.65" y="282.19" width="10.00" height="14.53" fill="#fff7dd"/><rect x="236.95" y="282.19" width="10.00" height="14.53" fill="#fff7dd"/><rect x="246.25" y="282.19" width="10.00" height="14.53" fill="#fff7dd"/><rect x="255.55" y="282.19" width="10.00" height="14.53" fill="#fff7dd"/><rect x="264.85" y="282.19" width="10.00" height="14.53" fill="#fff7dd"/><rect x="274.15" y="282.19" width="10.00" height="14.53" fill="#fff7dd"/><rect x="283.45" y="282.19" width="10.00" height="14.53" fill="#fff7dd"/><rect x="292.75" y="282.19" width="10.00" height="14.53" fill="#fff7dd"/><rect x="302.05" y="282.19" width="10.00" height="14.53" fill="#fff3d6"/><rect x="311.35" y="282.19" width="10.00" height="14.53" fill="#fff3d6"/><rect x="320.65" y="282.19" width="10.00" height="14.53" fill="#fff1d4"/><rect x="329.95" y="282.19" width="10.00" height="14.53" fill="#fff0d2"/><rect x="339.25" y="282.19" width="10.00" height="14.53" fill="#fee9c7"/><rect x="348.55" y="282.19" width="10.00" height="14.53" fill="#fddab0"/><rect x="357.85" y="282.19" width="10.00" height="14.53" fill="#fcae6b"/><rect x="367.15" y="282.19" width="10.00" height="14.53" fill="#fcb577"/><rect x="376.45" y="282.19" width="9.30" height="14.53" fill="#fee9c7"/><rect x="227.65" y="296.01" width="10.00" height="14.53" fill="#fff7dd"/><rect x="236.95" y="296.01" width="10.00" height="14.53" fill="#fff7dd"/><rect x="246.25" y="296.01" width="10.00" height="14.53" fill="#fff7dd"/><rect x="255.55" y="296.01" width="10.00" height="14.53" fill="#fff7dd"/><rect x="264.85" y="296.01" width="10.00" height="14.53" fill="#fff7dd"/><rect x="274.15" y="296.01" width="10.00" height="14.53" fill="#fff7dd"/><rect x="283.45" y="296.01" width="10.00" height="14.53" fill="#fff7dd"/><rect x="292.75" y="296.01" width="10.00" height="14.53" fill="#fff7dd"/><rect x="302.05" y="296.01" width="10.00" height="14.53" fill="#fff7dd"/><rect x="311.35" y="296.01" width="10.00" height="14.53" fill="#fff7dd"/><rect x="320.65" y="296.01" width="10.00" height="14.53" fill="#fff7dd"/><rect x="329.95" y="296.01" width="10.00" height="14.53" fill="#fff0d2"/><rect x="339.25" y="296.01" width="10.00" height="14.53" fill="#ffeed0"/><rect x="348.55" y="296.01" width="10.00" height="14.53" fill="#feebcb"/><rect x="357.85" y="296.01" width="10.00" height="14.53" fill="#fee1bb"/><rect x="367.15" y="296.01" width="10.00" height="14.53" fill="#fba762"/><rect x="376.45" y="296.01" width="9.30" height="14.53" fill="#fcbd82"/><rect x="227.65" y="309.84" width="10.00" height="14.53" fill="#fff7dd"/><rect x="236.95" y="309.84" width="10.00" height="14.53" fill="#fff7dd"/><rect x="246.25" y="309.84" width="10.00" height="14.53" fill="#fff7dd"/><rect x="255.55" y="309.84" width="10.00" height="14.53" fill="#fff7dd"/><rect x="264.85" y="309.84" width="10.00" height="14.53" fill="#fff7dd"/><rect x="274.15" y="309.84" width="10.00" height="14.53" fill="#fff7dd"/><rect x="283.45" y="309.84" width="10.00" height="14.53" fill="#fff7dd"/><rect x="292.75" y="309.84" width="10.00" height="14.53" fill="#fff7dd"/><rect x="302.05" y="309.84" width="10.00" height="14.53" fill="#fff7dd"/><rect x="311.35" y="309.84" width="10.00" height="14.53" fill="#fff7dd"/><rect x="320.65" y="309.84" width="10.00" height="14.53" fill="#fff7dd"/><rect x="329.95" y="309.84" width="10.00" height="14.53" fill="#fff7dd"/><rect x="339.25" y="309.84" width="10.00" height="14.53" fill="#fff7dd"/><rect x="348.55" y="309.84" width="10.00" height="14.53" fill="#fff1d4"/><rect x="357.85" y="309.84" width="10.00" height="14.53" fill="#fff0d2"/><rect x="367.15" y="309.84" width="10.00" height="14.53" fill="#fee1bb"/><rect x="376.45" y="309.84" width="9.30" height="14.53" fill="#fdc48e"/><rect x="227.65" y="323.66" width="10.00" height="14.53" fill="#fff7dd"/><rect x="236.95" y="323.66" width="10.00" height="14.53" fill="#fff7dd"/><rect x="246.25" y="323.66" width="10.00" height="14.53" fill="#fff7dd"/><rect x="255.55" y="323.66" width="10.00" height="14.53" fill="#fff7dd"/><rect x="264.85" y="323.66" width="10.00" height="14.53" fill="#fff7dd"/><rect x="274.15" y="323.66" width="10.00" height="14.53" fill="#fff7dd"/><rect x="283.45" y="323.66" width="10.00" height="14.53" fill="#fff7dd"/><rect x="292.75" y="323.66" width="10.00" height="14.53" fill="#fff7dd"/><rect x="302.05" y="323.66" width="10.00" height="14.53" fill="#fff7dd"/><rect x="311.35" y="323.66" width="10.00" height="14.53" fill="#fff7dd"/><rect x="320.65" y="323.66" width="10.00" height="14.53" fill="#fff7dd"/><rect x="329.95" y="323.66" width="10.00" height="14.53" fill="#fff7dd"/><rect x="339.25" y="323.66" width="10.00" height="14.53" fill="#fff7dd"/><rect x="348.55" y="323.66" width="10.00" height="14.53" fill="#fff7dd"/><rect x="357.85" y="323.66" width="10.00" height="14.53" fill="#fff7dd"/><rect x="367.15" y="323.66" width="10.00" height="14.53" fill="#fff0d2"/><rect x="376.45" y="323.66" width="9.30" height="14.53" fill="#fddab0"/><rect x="227.65" y="337.49" width="10.00" height="14.53" fill="#fff7dd"/><rect x="236.95" y="337.49" width="10.00" height="14.53" fill="#fff7dd"/><rect x="246.25" y="337.49" width="10.00" height="14.53" fill="#fff7dd"/><rect x="255.55" y="337.49" width="10.00" height="14.53" fill="#fff7dd"/><rect x="264.85" y="337.49" width="10.00" height="14.53" fill="#fff7dd"/><rect x="274.15" y="337.49" width="10.00" height="14.53" fill="#fff7dd"/><rect x="283.45" y="337.49" width="10.00" height="14.53" fill="#fff7dd"/><rect x="292.75" y="337.49" width="10.00" height="14.53" fill="#fff7dd"/><rect x="302.05" y="337.49" width="10.00" height="14.53" fill="#fff7dd"/><rect x="311.35" y="337.49" width="10.00" height="14.53" fill="#fff7dd"/><rect x="320.65" y="337.49" width="10.00" height="14.53" fill="#fff7dd"/><rect x="329.95" y="337.49" width="10.00" height="14.53" fill="#fff7dd"/><rect x="339.25" y="337.49" width="10.00" height="14.53" fill="#fff7dd"/><rect x="348.55" y="337.49" width="10.00" height="14.53" fill="#fff7dd"/><rect x="357.85" y="337.49" width="10.00" height="14.53" fill="#fff7dd"/><rect x="367.15" y="337.49" width="10.00" height="14.53" fill="#fff7dd"/><rect x="376.45" y="337.49" width="9.30" height="14.53" fill="#fff7dd"/><rect x="227.65" y="351.31" width="10.00" height="14.53" fill="#fff7dd"/><rect x="236.95" y="351.31" width="10.00" height="14.53" fill="#fff7dd"/><rect x="246.25" y="351.31" width="10.00" height="14.53" fill="#fff7dd"/><rect x="255.55" y="351.31" width="10.00" height="14.53" fill="#fff7dd"/><rect x="264.85" y="351.31" width="10.00" height="14.53" fill="#fff7dd"/><rect x="274.15" y="351.31" width="10.00" height="14.53" fill="#fff7dd"/><rect x="283.45" y="351.31" width="10.00" height="14.53" fill="#fff7dd"/><rect x="292.75" y="351.31" width="10.00" height="14.53" fill="#fff7dd"/><rect x="302.05" y="351.31" width="10.00" height="14.53" fill="#fff7dd"/><rect x="311.35" y="351.31" width="10.00" height="14.53" fill="#fff7dd"/><rect x="320.65" y="351.31" width="10.00" height="14.53" fill="#fff7dd"/><rect x="329.95" y="351.31" width="10.00" height="14.53" fill="#fff7dd"/><rect x="339.25" y="351.31" width="10.00" height="14.53" fill="#fff7dd"/><rect x="348.55" y="351.31" width="10.00" height="14.53" fill="#fff7dd"/><rect x="357.85" y="351.31" width="10.00" height="14.53" fill="#fff7dd"/><rect x="367.15" y="351.31" width="10.00" height="14.53" fill="#fff7dd"/><rect x="376.45" y="351.31" width="9.30" height="14.53" fill="#fff7dd"/><rect x="227.65" y="365.14" width="10.00" height="13.83" fill="#fff7dd"/><rect x="236.95" y="365.14" width="10.00" height="13.83" fill="#fff7dd"/><rect x="246.25" y="365.14" width="10.00" height="13.83" fill="#fff7dd"/><rect x="255.55" y="365.14" width="10.00" height="13.83" fill="#fff7dd"/><rect x="264.85" y="365.14" width="10.00" height="13.83" fill="#fff7dd"/><rect x="274.15" y="365.14" width="10.00" height="13.83" fill="#fff7dd"/><rect x="283.45" y="365.14" width="10.00" height="13.83" fill="#fff7dd"/><rect x="292.75" y="365.14" width="10.00" height="13.83" fill="#fff7dd"/><rect x="302.05" y="365.14" width="10.00" height="13.83" fill="#fff7dd"/><rect x="311.35" y="365.14" width="10.00" height="13.83" fill="#fff7dd"/><rect x="320.65" y="365.14" width="10.00" height="13.83" fill="#fff7dd"/><rect x="329.95" y="365.14" width="10.00" height="13.83" fill="#fff7dd"/><rect x="339.25" y="365.14" width="10.00" height="13.83" fill="#fff7dd"/><rect x="348.55" y="365.14" width="10.00" height="13.83" fill="#fff7dd"/><rect x="357.85" y="365.14" width="10.00" height="13.83" fill="#fff7dd"/><rect x="367.15" y="365.14" width="10.00" height="13.83" fill="#fff7dd"/><rect x="376.45" y="365.14" width="9.30" height="13.83" fill="#fff7dd"/><rect x="416.50" y="226.89" width="10.00" height="14.53" fill="#fff7dd"/><rect x="425.80" y="226.89" width="10.00" height="14.53" fill="#fff7dd"/><rect x="435.10" y="226.89" width="10.00" height="14.53" fill="#fff7dd"/><rect x="444.40" y="226.89" width="10.00" height="14.53" fill="#fff7dd"/><rect x="453.70" y="226.89" width="10.00" height="14.53" fill="#fff7dd"/><rect x="463.00" y="226.89" width="10.00" height="14.53" fill="#fff7dd"/><rect x="472.30" y="226.89" width="10.00" height="14.53" fill="#fff7dd"/><rect x="481.60" y="226.89" width="10.00" height="14.53" fill="#fff7dd"/><rect x="490.90" y="226.89" width="10.00" height="14.53" fill="#fff6db"/><rect x="500.20" y="226.89" width="10.00" height="14.53" fill="#fff6db"/><rect x="509.50" y="226.89" width="10.00" height="14.53" fill="#ffeed0"/><rect x="518.80" y="226.89" width="10.00" height="14.53" fill="#fee6c2"/><rect x="528.10" y="226.89" width="10.00" height="14.53" fill="#fdd3a5"/><rect x="537.40" y="226.89" width="10.00" height="14.53" fill="#fba762"/><rect x="546.70" y="226.89" width="10.00" height="14.53" fill="#fcae6b"/><rect x="556.00" y="226.89" width="9.30" height="14.53" fill="#fee1bb"/><rect x="416.50" y="240.71" width="10.00" height="14.53" fill="#fff7dd"/><rect x="425.80" y="240.71" width="10.00" height="14.53" fill="#fff7dd"/><rect x="435.10" y="240.71" width="10.00" height="14.53" fill="#fff7dd"/><rect x="444.40" y="240.71" width="10.00" height="14.53" fill="#fff7dd"/><rect x="453.70" y="240.71" width="10.00" height="14.53" fill="#fff7dd"/><rect x="463.00" y="240.71" width="10.00" height="14.53" fill="#fff7dd"/><rect x="472.30" y="240.71" width="10.00" height="14.53" fill="#fff7dd"/><rect x="481.60" y="240.71" width="10.00" height="14.53" fill="#fff7dd"/><rect x="490.90" y="240.71" width="10.00" height="14.53" fill="#fff6db"/><rect x="500.20" y="240.71" width="10.00" height="14.53" fill="#fff4d9"/><rect x="509.50" y="240.71" width="10.00" height="14.53" fill="#fff3d6"/><rect x="518.80" y="240.71" width="10.00" height="14.53" fill="#fee9c7"/><rect x="528.10" y="240.71" width="10.00" height="14.53" fill="#fee6c2"/><rect x="537.40" y="240.71" width="10.00" height="14.53" fill="#fcbd82"/><rect x="546.70" y="240.71" width="10.00" height="14.53" fill="#fba059"/><rect x="556.00" y="240.71" width="9.30" height="14.53" fill="#fdc48e"/><rect x="416.50" y="254.54" width="10.00" height="14.53" fill="#fff7dd"/><rect x="425.80" y="254.54" width="10.00" height="14.53" fill="#fff7dd"/><rect x="435.10" y="254.54" width="10.00" height="14.53" fill="#fff7dd"/><rect x="444.40" y="254.54" width="10.00" height="14.53" fill="#fff7dd"/><rect x="453.70" y="254.54" width="10.00" height="14.53" fill="#fff7dd"/><rect x="463.00" y="254.54" width="10.00" height="14.53" fill="#fff7dd"/><rect x="472.30" y="254.54" width="10.00" height="14.53" fill="#fff7dd"/><rect x="481.60" y="254.54" width="10.00" height="14.53" fill="#fff7dd"/><rect x="490.90" y="254.54" width="10.00" height="14.53" fill="#fff4d9"/><rect x="500.20" y="254.54" width="10.00" height="14.53" fill="#fff4d9"/><rect x="509.50" y="254.54" width="10.00" height="14.53" fill="#fff4d9"/><rect x="518.80" y="254.54" width="10.00" height="14.53" fill="#fff3d6"/><rect x="528.10" y="254.54" width="10.00" height="14.53" fill="#fff1d4"/><rect x="537.40" y="254.54" width="10.00" height="14.53" fill="#fdd3a5"/><rect x="546.70" y="254.54" width="10.00" height="14.53" fill="#fcae6b"/><rect x="556.00" y="254.54" width="10.00" height="14.53" fill="#fcae6b"/><rect x="565.30" y="254.54" width="9.30" height="14.53" fill="#fee9c7"/><rect x="416.50" y="268.36" width="10.00" height="14.53" fill="#fff7dd"/><rect x="425.80" y="268.36" width="10.00" height="14.53" fill="#fff7dd"/><rect x="435.10" y="268.36" width="10.00" height="14.53" fill="#fff7dd"/><rect x="444.40" y="268.36" width="10.00" height="14.53" fill="#fff7dd"/><rect x="453.70" y="268.36" width="10.00" height="14.53" fill="#fff7dd"/><rect x="463.00" y="268.36" width="10.00" height="14.53" fill="#fff7dd"/><rect x="472.30" y="268.36" width="10.00" height="14.53" fill="#fff7dd"/><rect x="481.60" y="268.36" width="10.00" height="14.53" fill="#fff7dd"/><rect x="490.90" y="268.36" width="10.00" height="14.53" fill="#fff4d9"/><rect x="500.20" y="268.36" width="10.00" height="14.53" fill="#fff4d9"/><rect x="509.50" y="268.36" width="10.00" height="14.53" fill="#fff4d9"/><rect x="518.80" y="268.36" width="10.00" height="14.53" fill="#fff4d9"/><rect x="528.10" y="268.36" width="10.00" height="14.53" fill="#fee9c7"/><rect x="537.40" y="268.36" width="10.00" height="14.53" fill="#fff3d6"/><rect x="546.70" y="268.36" width="10.00" height="14.53" fill="#fdd3a5"/><rect x="556.00" y="268.36" width="10.00" height="14.53" fill="#fcb577"/><rect x="565.30" y="268.36" width="9.30" height="14.53" fill="#fdd7ac"/><rect x="416.50" y="282.19" width="10.00" height="14.53" fill="#fff7dd"/><rect x="425.80" y="282.19" width="10.00" height="14.53" fill="#fff7dd"/><rect x="435.10" y="282.19" width="10.00" height="14.53" fill="#fff7dd"/><rect x="444.40" y="282.19" width="10.00" height="14.53" fill="#fff7dd"/><rect x="453.70" y="282.19" width="10.00" height="14.53" fill="#fff7dd"/><rect x="463.00" y="282.19" width="10.00" height="14.53" fill="#fff7dd"/><rect x="472.30" y="282.19" width="10.00" height="14.53" fill="#fff7dd"/><rect x="481.60" y="282.19" width="10.00" height="14.53" fill="#fff7dd"/><rect x="490.90" y="282.19" width="10.00" height="14.53" fill="#fff7dd"/><rect x="500.20" y="282.19" width="10.00" height="14.53" fill="#fff7dd"/><rect x="509.50" y="282.19" width="10.00" height="14.53" fill="#fff7dd"/><rect x="518.80" y="282.19" width="10.00" height="14.53" fill="#fff7dd"/><rect x="528.10" y="282.19" width="10.00" height="14.53" fill="#fff7dd"/><rect x="537.40" y="282.19" width="10.00" height="14.53" fill="#feebcb"/><rect x="546.70" y="282.19" width="10.00" height="14.53" fill="#fee1bb"/><rect x="556.00" y="282.19" width="10.00" height="14.53" fill="#fcbd82"/><rect x="565.30" y="282.19" width="9.30" height="14.53" fill="#fdcc99"/><rect x="416.50" y="296.01" width="10.00" height="14.53" fill="#fff7dd"/><rect x="425.80" y="296.01" width="10.00" height="14.53" fill="#fff7dd"/><rect x="435.10" y="296.01" width="10.00" height="14.53" fill="#fff7dd"/><rect x="444.40" y="296.01" width="10.00" height="14.53" fill="#fff7dd"/><rect x="453.70" y="296.01" width="10.00" height="14.53" fill="#fff7dd"/><rect x="463.00" y="296.01" width="10.00" height="14.53" fill="#fff7dd"/><rect x="472.30" y="296.01" width="10.00" height="14.53" fill="#fff7dd"/><rect x="481.60" y="296.01" width="10.00" height="14.53" fill="#fff7dd"/><rect x="490.90" y="296.01" width="10.00" height="14.53" fill="#fff7dd"/><rect x="500.20" y="296.01" width="10.00" height="14.53" fill="#fff7dd"/><rect x="509.50" y="296.01" width="10.00" height="14.53" fill="#fff7dd"/><rect x="518.80" y="296.01" width="10.00" height="14.53" fill="#fff7dd"/><rect x="528.10" y="296.01" width="10.00" height="14.53" fill="#fff1d4"/><rect x="537.40" y="296.01" width="10.00" height="14.53" fill="#ffeed0"/><rect x="546.70" y="296.01" width="10.00" height="14.53" fill="#feebcb"/><rect x="556.00" y="296.01" width="10.00" height="14.53" fill="#fee1bb"/><rect x="565.30" y="296.01" width="9.30" height="14.53" fill="#fba762"/><rect x="416.50" y="309.84" width="10.00" height="14.53" fill="#fff7dd"/><rect x="425.80" y="309.84" width="10.00" height="14.53" fill="#fff7dd"/><rect x="435.10" y="309.84" width="10.00" height="14.53" fill="#fff7dd"/><rect x="444.40" y="309.84" width="10.00" height="14.53" fill="#fff7dd"/><rect x="453.70" y="309.84" width="10.00" height="14.53" fill="#fff7dd"/><rect x="463.00" y="309.84" width="10.00" height="14.53" fill="#fff7dd"/><rect x="472.30" y="309.84" width="10.00" height="14.53" fill="#fff7dd"/><rect x="481.60" y="309.84" width="10.00" height="14.53" fill="#fff7dd"/><rect x="490.90" y="309.84" width="10.00" height="14.53" fill="#fff7dd"/><rect x="500.20" y="309.84" width="10.00" height="14.53" fill="#fff7dd"/><rect x="509.50" y="309.84" width="10.00" height="14.53" fill="#fff7dd"/><rect x="518.80" y="309.84" width="10.00" height="14.53" fill="#fff7dd"/><rect x="528.10" y="309.84" width="10.00" height="14.53" fill="#fff7dd"/><rect x="537.40" y="309.84" width="10.00" height="14.53" fill="#fff7dd"/><rect x="546.70" y="309.84" width="10.00" height="14.53" fill="#fff7dd"/><rect x="556.00" y="309.84" width="10.00" height="14.53" fill="#ffeed0"/><rect x="565.30" y="309.84" width="9.30" height="14.53" fill="#fdcc99"/><rect x="416.50" y="323.66" width="10.00" height="14.53" fill="#fff7dd"/><rect x="425.80" y="323.66" width="10.00" height="14.53" fill="#fff7dd"/><rect x="435.10" y="323.66" width="10.00" height="14.53" fill="#fff7dd"/><rect x="444.40" y="323.66" width="10.00" height="14.53" fill="#fff7dd"/><rect x="453.70" y="323.66" width="10.00" height="14.53" fill="#fff7dd"/><rect x="463.00" y="323.66" width="10.00" height="14.53" fill="#fff7dd"/><rect x="472.30" y="323.66" width="10.00" height="14.53" fill="#fff7dd"/><rect x="481.60" y="323.66" width="10.00" height="14.53" fill="#fff7dd"/><rect x="490.90" y="323.66" width="10.00" height="14.53" fill="#fff7dd"/><rect x="500.20" y="323.66" width="10.00" height="14.53" fill="#fff7dd"/><rect x="509.50" y="323.66" width="10.00" height="14.53" fill="#fff7dd"/><rect x="518.80" y="323.66" width="10.00" height="14.53" fill="#fff7dd"/><rect x="528.10" y="323.66" width="10.00" height="14.53" fill="#fff7dd"/><rect x="537.40" y="323.66" width="10.00" height="14.53" fill="#fff7dd"/><rect x="546.70" y="323.66" width="10.00" height="14.53" fill="#fff3d6"/><rect x="556.00" y="323.66" width="10.00" height="14.53" fill="#fff7dd"/><rect x="565.30" y="323.66" width="9.30" height="14.53" fill="#fee9c7"/><rect x="416.50" y="337.49" width="10.00" height="14.53" fill="#fff7dd"/><rect x="425.80" y="337.49" width="10.00" height="14.53" fill="#fff7dd"/><rect x="435.10" y="337.49" width="10.00" height="14.53" fill="#fff7dd"/><rect x="444.40" y="337.49" width="10.00" height="14.53" fill="#fff7dd"/><rect x="453.70" y="337.49" width="10.00" height="14.53" fill="#fff7dd"/><rect x="463.00" y="337.49" width="10.00" height="14.53" fill="#fff7dd"/><rect x="472.30" y="337.49" width="10.00" height="14.53" fill="#fff7dd"/><rect x="481.60" y="337.49" width="10.00" height="14.53" fill="#fff7dd"/><rect x="490.90" y="337.49" width="10.00" height="14.53" fill="#fff7dd"/><rect x="500.20" y="337.49" width="10.00" height="14.53" fill="#fff7dd"/><rect x="509.50" y="337.49" width="10.00" height="14.53" fill="#fff7dd"/><rect x="518.80" y="337.49" width="10.00" height="14.53" fill="#fff7dd"/><rect x="528.10" y="337.49" width="10.00" height="14.53" fill="#fff7dd"/><rect x="537.40" y="337.49" width="10.00" height="14.53" fill="#fff7dd"/><rect x="546.70" y="337.49" width="10.00" height="14.53" fill="#fff7dd"/><rect x="556.00" y="337.49" width="10.00" height="14.53" fill="#fff7dd"/><rect x="565.30" y="337.49" width="9.30" height="14.53" fill="#ffeed0"/><rect x="416.50" y="351.31" width="10.00" height="14.53" fill="#fff7dd"/><rect x="425.80" y="351.31" width="10.00" height="14.53" fill="#fff7dd"/><rect x="435.10" y="351.31" width="10.00" height="14.53" fill="#fff7dd"/><rect x="444.40" y="351.31" width="10.00" height="14.53" fill="#fff7dd"/><rect x="453.70" y="351.31" width="10.00" height="14.53" fill="#fff7dd"/><rect x="463.00" y="351.31" width="10.00" height="14.53" fill="#fff7dd"/><rect x="472.30" y="351.31" width="10.00" height="14.53" fill="#fff7dd"/><rect x="481.60" y="351.31" width="10.00" height="14.53" fill="#fff7dd"/><rect x="490.90" y="351.31" width="10.00" height="14.53" fill="#fff7dd"/><rect x="500.20" y="351.31" width="10.00" height="14.53" fill="#fff7dd"/><rect x="509.50" y="351.31" width="10.00" height="14.53" fill="#fff7dd"/><rect x="518.80" y="351.31" width="10.00" height="14.53" fill="#fff7dd"/><rect x="528.10" y="351.31" width="10.00" height="14.53" fill="#fff7dd"/><rect x="537.40" y="351.31" width="10.00" height="14.53" fill="#fff7dd"/><rect x="546.70" y="351.31" width="10.00" height="14.53" fill="#fff7dd"/><rect x="556.00" y="351.31" width="10.00" height="14.53" fill="#fff3d6"/><rect x="565.30" y="351.31" width="9.30" height="14.53" fill="#fff7dd"/><rect x="416.50" y="365.14" width="10.00" height="13.83" fill="#fff7dd"/><rect x="425.80" y="365.14" width="10.00" height="13.83" fill="#fff7dd"/><rect x="435.10" y="365.14" width="10.00" height="13.83" fill="#fff7dd"/><rect x="444.40" y="365.14" width="10.00" height="13.83" fill="#fff7dd"/><rect x="453.70" y="365.14" width="10.00" height="13.83" fill="#fff7dd"/><rect x="463.00" y="365.14" width="10.00" height="13.83" fill="#fff7dd"/><rect x="472.30" y="365.14" width="10.00" height="13.83" fill="#fff7dd"/><rect x="481.60" y="365.14" width="10.00" height="13.83" fill="#fff7dd"/><rect x="490.90" y="365.14" width="10.00" height="13.83" fill="#fff7dd"/><rect x="500.20" y="365.14" width="10.00" height="13.83" fill="#fff7dd"/><rect x="509.50" y="365.14" width="10.00" height="13.83" fill="#fff7dd"/><rect x="518.80" y="365.14" width="10.00" height="13.83" fill="#fff7dd"/><rect x="528.10" y="365.14" width="10.00" height="13.83" fill="#fff7dd"/><rect x="537.40" y="365.14" width="10.00" height="13.83" fill="#fff7dd"/><rect x="546.70" y="365.14" width="10.00" height="13.83" fill="#fff7dd"/><rect x="556.00" y="365.14" width="10.00" height="13.83" fill="#fff7dd"/><rect x="565.30" y="365.14" width="9.30" height="13.83" fill="#fff7dd"/><rect x="25.55" y="0.00" width="184.40" height="11.75" fill="#cccccc"/><text x="117.75" y="8.90" font-size="7.5" fill="#1a1a1a" text-anchor="middle">1 egg</text><rect x="214.40" y="0.00" width="184.40" height="11.75" fill="#cccccc"/><text x="306.60" y="8.90" font-size="7.5" fill="#1a1a1a" text-anchor="middle">2 eggs</text><rect x="403.25" y="0.00" width="184.40" height="11.75" fill="#cccccc"/><text x="495.45" y="8.90" font-size="7.5" fill="#1a1a1a" text-anchor="middle">3 eggs</text><rect x="25.55" y="199.50" width="184.40" height="11.95" fill="#cccccc"/><text x="117.75" y="208.00" font-size="7.5" fill="#1a1a1a" text-anchor="middle">4 eggs</text><rect x="214.40" y="199.50" width="184.40" height="11.95" fill="#cccccc"/><text x="306.60" y="208.00" font-size="7.5" fill="#1a1a1a" text-anchor="middle">5 eggs</text><rect x="403.25" y="199.50" width="184.40" height="11.95" fill="#cccccc"/><text x="495.45" y="208.00" font-size="7.5" fill="#1a1a1a" text-anchor="middle">6 eggs</text><line x1="25.55" y1="11.60" x2="25.55" y2="195.30" stroke="#333333" stroke-width="1.1"/><line x1="22.95" y1="172.70" x2="25.55" y2="172.70" stroke="#333333" stroke-width="1.1"/><text x="20.95" y="175.30" font-size="7.2" fill="#333333" stroke="#333333" stroke-width="0.12" text-anchor="end">0.0</text><line x1="22.95" y1="145.05" x2="25.55" y2="145.05" stroke="#333333" stroke-width="1.1"/><text x="20.95" y="147.65" font-size="7.2" fill="#333333" stroke="#333333" stroke-width="0.12" text-anchor="end">0.1</text><line x1="22.95" y1="117.40" x2="25.55" y2="117.40" stroke="#333333" stroke-width="1.1"/><text x="20.95" y="120.00" font-size="7.2" fill="#333333" stroke="#333333" stroke-width="0.12" text-anchor="end">0.2</text><line x1="22.95" y1="89.75" x2="25.55" y2="89.75" stroke="#333333" stroke-width="1.1"/><text x="20.95" y="92.35" font-size="7.2" fill="#333333" stroke="#333333" stroke-width="0.12" text-anchor="end">0.3</text><line x1="22.95" y1="62.10" x2="25.55" y2="62.10" stroke="#333333" stroke-width="1.1"/><text x="20.95" y="64.70" font-size="7.2" fill="#333333" stroke="#333333" stroke-width="0.12" text-anchor="end">0.4</text><line x1="22.95" y1="34.45" x2="25.55" y2="34.45" stroke="#333333" stroke-width="1.1"/><text x="20.95" y="37.05" font-size="7.2" fill="#333333" stroke="#333333" stroke-width="0.12" text-anchor="end">0.5</text><line x1="25.55" y1="210.95" x2="25.55" y2="395.40" stroke="#333333" stroke-width="1.1"/><line x1="22.95" y1="372.05" x2="25.55" y2="372.05" stroke="#333333" stroke-width="1.1"/><text x="20.95" y="374.65" font-size="7.2" fill="#333333" stroke="#333333" stroke-width="0.12" text-anchor="end">0.0</text><line x1="22.95" y1="344.40" x2="25.55" y2="344.40" stroke="#333333" stroke-width="1.1"/><text x="20.95" y="347.00" font-size="7.2" fill="#333333" stroke="#333333" stroke-width="0.12" text-anchor="end">0.1</text><line x1="22.95" y1="316.75" x2="25.55" y2="316.75" stroke="#333333" stroke-width="1.1"/><text x="20.95" y="319.35" font-size="7.2" fill="#333333" stroke="#333333" stroke-width="0.12" text-anchor="end">0.2</text><line x1="22.95" y1="289.10" x2="25.55" y2="289.10" stroke="#333333" stroke-width="1.1"/><text x="20.95" y="291.70" font-size="7.2" fill="#333333" stroke="#333333" stroke-width="0.12" text-anchor="end">0.3</text><line x1="22.95" y1="261.45" x2="25.55" y2="261.45" stroke="#333333" stroke-width="1.1"/><text x="20.95" y="264.05" font-size="7.2" fill="#333333" stroke="#333333" stroke-width="0.12" text-anchor="end">0.4</text><line x1="22.95" y1="233.80" x2="25.55" y2="233.80" stroke="#333333" stroke-width="1.1"/><text x="20.95" y="236.40" font-size="7.2" fill="#333333" stroke="#333333" stroke-width="0.12" text-anchor="end">0.5</text><line x1="25.00" y1="394.60" x2="209.95" y2="394.60" stroke="#333333" stroke-width="1.1"/><line x1="43.45" y1="394.60" x2="43.45" y2="397.20" stroke="#333333" stroke-width="1.1"/><text x="43.45" y="404.20" font-size="7.2" fill="#333333" stroke="#333333" stroke-width="0.12" text-anchor="middle">0.0</text><line x1="62.05" y1="394.60" x2="62.05" y2="397.20" stroke="#333333" stroke-width="1.1"/><text x="62.05" y="404.20" font-size="7.2" fill="#333333" stroke="#333333" stroke-width="0.12" text-anchor="middle">0.1</text><line x1="80.65" y1="394.60" x2="80.65" y2="397.20" stroke="#333333" stroke-width="1.1"/><text x="80.65" y="404.20" font-size="7.2" fill="#333333" stroke="#333333" stroke-width="0.12" text-anchor="middle">0.2</text><line x1="99.25" y1="394.60" x2="99.25" y2="397.20" stroke="#333333" stroke-width="1.1"/><text x="99.25" y="404.20" font-size="7.2" fill="#333333" stroke="#333333" stroke-width="0.12" text-anchor="middle">0.3</text><line x1="117.85" y1="394.60" x2="117.85" y2="397.20" stroke="#333333" stroke-width="1.1"/><text x="117.85" y="404.20" font-size="7.2" fill="#333333" stroke="#333333" stroke-width="0.12" text-anchor="middle">0.4</text><line x1="136.45" y1="394.60" x2="136.45" y2="397.20" stroke="#333333" stroke-width="1.1"/><text x="136.45" y="404.20" font-size="7.2" fill="#333333" stroke="#333333" stroke-width="0.12" text-anchor="middle">0.5</text><line x1="155.05" y1="394.60" x2="155.05" y2="397.20" stroke="#333333" stroke-width="1.1"/><text x="155.05" y="404.20" font-size="7.2" fill="#333333" stroke="#333333" stroke-width="0.12" text-anchor="middle">0.6</text><line x1="173.65" y1="394.60" x2="173.65" y2="397.20" stroke="#333333" stroke-width="1.1"/><text x="173.65" y="404.20" font-size="7.2" fill="#333333" stroke="#333333" stroke-width="0.12" text-anchor="middle">0.7</text><line x1="192.25" y1="394.60" x2="192.25" y2="397.20" stroke="#333333" stroke-width="1.1"/><text x="192.25" y="404.20" font-size="7.2" fill="#333333" stroke="#333333" stroke-width="0.12" text-anchor="middle">0.8</text><line x1="213.85" y1="394.60" x2="398.80" y2="394.60" stroke="#333333" stroke-width="1.1"/><line x1="232.30" y1="394.60" x2="232.30" y2="397.20" stroke="#333333" stroke-width="1.1"/><text x="232.30" y="404.20" font-size="7.2" fill="#333333" stroke="#333333" stroke-width="0.12" text-anchor="middle">0.0</text><line x1="250.90" y1="394.60" x2="250.90" y2="397.20" stroke="#333333" stroke-width="1.1"/><text x="250.90" y="404.20" font-size="7.2" fill="#333333" stroke="#333333" stroke-width="0.12" text-anchor="middle">0.1</text><line x1="269.50" y1="394.60" x2="269.50" y2="397.20" stroke="#333333" stroke-width="1.1"/><text x="269.50" y="404.20" font-size="7.2" fill="#333333" stroke="#333333" stroke-width="0.12" text-anchor="middle">0.2</text><line x1="288.10" y1="394.60" x2="288.10" y2="397.20" stroke="#333333" stroke-width="1.1"/><text x="288.10" y="404.20" font-size="7.2" fill="#333333" stroke="#333333" stroke-width="0.12" text-anchor="middle">0.3</text><line x1="306.70" y1="394.60" x2="306.70" y2="397.20" stroke="#333333" stroke-width="1.1"/><text x="306.70" y="404.20" font-size="7.2" fill="#333333" stroke="#333333" stroke-width="0.12" text-anchor="middle">0.4</text><line x1="325.30" y1="394.60" x2="325.30" y2="397.20" stroke="#333333" stroke-width="1.1"/><text x="325.30" y="404.20" font-size="7.2" fill="#333333" stroke="#333333" stroke-width="0.12" text-anchor="middle">0.5</text><line x1="343.90" y1="394.60" x2="343.90" y2="397.20" stroke="#333333" stroke-width="1.1"/><text x="343.90" y="404.20" font-size="7.2" fill="#333333" stroke="#333333" stroke-width="0.12" text-anchor="middle">0.6</text><line x1="362.50" y1="394.60" x2="362.50" y2="397.20" stroke="#333333" stroke-width="1.1"/><text x="362.50" y="404.20" font-size="7.2" fill="#333333" stroke="#333333" stroke-width="0.12" text-anchor="middle">0.7</text><line x1="381.10" y1="394.60" x2="381.10" y2="397.20" stroke="#333333" stroke-width="1.1"/><text x="381.10" y="404.20" font-size="7.2" fill="#333333" stroke="#333333" stroke-width="0.12" text-anchor="middle">0.8</text><line x1="402.70" y1="394.60" x2="587.65" y2="394.60" stroke="#333333" stroke-width="1.1"/><line x1="421.15" y1="394.60" x2="421.15" y2="397.20" stroke="#333333" stroke-width="1.1"/><text x="421.15" y="404.20" font-size="7.2" fill="#333333" stroke="#333333" stroke-width="0.12" text-anchor="middle">0.0</text><line x1="439.75" y1="394.60" x2="439.75" y2="397.20" stroke="#333333" stroke-width="1.1"/><text x="439.75" y="404.20" font-size="7.2" fill="#333333" stroke="#333333" stroke-width="0.12" text-anchor="middle">0.1</text><line x1="458.35" y1="394.60" x2="458.35" y2="397.20" stroke="#333333" stroke-width="1.1"/><text x="458.35" y="404.20" font-size="7.2" fill="#333333" stroke="#333333" stroke-width="0.12" text-anchor="middle">0.2</text><line x1="476.95" y1="394.60" x2="476.95" y2="397.20" stroke="#333333" stroke-width="1.1"/><text x="476.95" y="404.20" font-size="7.2" fill="#333333" stroke="#333333" stroke-width="0.12" text-anchor="middle">0.3</text><line x1="495.55" y1="394.60" x2="495.55" y2="397.20" stroke="#333333" stroke-width="1.1"/><text x="495.55" y="404.20" font-size="7.2" fill="#333333" stroke="#333333" stroke-width="0.12" text-anchor="middle">0.4</text><line x1="514.15" y1="394.60" x2="514.15" y2="397.20" stroke="#333333" stroke-width="1.1"/><text x="514.15" y="404.20" font-size="7.2" fill="#333333" stroke="#333333" stroke-width="0.12" text-anchor="middle">0.5</text><line x1="532.75" y1="394.60" x2="532.75" y2="397.20" stroke="#333333" stroke-width="1.1"/><text x="532.75" y="404.20" font-size="7.2" fill="#333333" stroke="#333333" stroke-width="0.12" text-anchor="middle">0.6</text><line x1="551.35" y1="394.60" x2="551.35" y2="397.20" stroke="#333333" stroke-width="1.1"/><text x="551.35" y="404.20" font-size="7.2" fill="#333333" stroke="#333333" stroke-width="0.12" text-anchor="middle">0.7</text><line x1="569.95" y1="394.60" x2="569.95" y2="397.20" stroke="#333333" stroke-width="1.1"/><text x="569.95" y="404.20" font-size="7.2" fill="#333333" stroke="#333333" stroke-width="0.12" text-anchor="middle">0.8</text><text x="306.60" y="414.6" font-size="9" fill="#1a1a1a" text-anchor="middle">Juvenile Mortality</text><text transform="translate(6.6,203.4) rotate(-90)" font-size="9" fill="#1a1a1a" text-anchor="middle">Adult Mortality</text><line x1="136.45" y1="97.80" x2="140.20" y2="93.80" stroke="#000" stroke-width="0.9"/><circle cx="136.45" cy="97.80" r="1.85" fill="#000"/><text x="123.80" y="92.70" font-size="6.4" font-style="italic" fill="#1a1a1a" stroke="#1a1a1a" stroke-width="0.06">T. melanophris</text><line x1="136.60" y1="130.80" x2="140.30" y2="127.00" stroke="#000" stroke-width="0.9"/><circle cx="136.60" cy="130.80" r="1.85" fill="#000"/><text x="124.80" y="125.90" font-size="6.4" font-style="italic" fill="#1a1a1a" stroke="#1a1a1a" stroke-width="0.06">P. immutabilis</text><line x1="50.80" y1="147.80" x2="47.30" y2="143.20" stroke="#000" stroke-width="0.9"/><circle cx="50.80" cy="147.80" r="1.85" fill="#000"/><text x="30.80" y="143.00" font-size="6.4" font-style="italic" fill="#1a1a1a" stroke="#1a1a1a" stroke-width="0.06">F. glacialis</text><line x1="106.70" y1="142.00" x2="102.20" y2="137.80" stroke="#000" stroke-width="0.9"/><circle cx="106.70" cy="142.00" r="1.85" fill="#000"/><text x="77.80" y="137.00" font-size="6.4" font-style="italic" fill="#1a1a1a" stroke="#1a1a1a" stroke-width="0.06">P. auricularis</text><line x1="78.80" y1="156.40" x2="76.40" y2="164.60" stroke="#000" stroke-width="0.9"/><circle cx="78.80" cy="156.40" r="1.85" fill="#000"/><text x="45.20" y="168.40" font-size="6.4" font-style="italic" fill="#1a1a1a" stroke="#1a1a1a" stroke-width="0.06">D. exulans</text><line x1="99.40" y1="150.40" x2="102.70" y2="154.40" stroke="#000" stroke-width="0.9"/><circle cx="99.40" cy="150.40" r="1.85" fill="#000"/><text x="84.80" y="160.70" font-size="6.4" font-style="italic" fill="#1a1a1a" stroke="#1a1a1a" stroke-width="0.06">G. coprotheres</text><line x1="114.10" y1="150.50" x2="135.70" y2="155.70" stroke="#000" stroke-width="0.9"/><circle cx="114.10" cy="150.50" r="1.85" fill="#000"/><text x="136.40" y="157.90" font-size="6.4" font-style="italic" fill="#1a1a1a" stroke="#1a1a1a" stroke-width="0.06">C. lathami</text><line x1="280.70" y1="111.80" x2="284.40" y2="107.40" stroke="#000" stroke-width="0.9"/><circle cx="280.70" cy="111.80" r="1.85" fill="#000"/><text x="273.90" y="106.50" font-size="6.4" font-style="italic" fill="#1a1a1a" stroke="#1a1a1a" stroke-width="0.06">A. fasciata</text><line x1="260.30" y1="120.50" x2="257.60" y2="116.90" stroke="#000" stroke-width="0.9"/><circle cx="260.30" cy="120.50" r="1.85" fill="#000"/><text x="232.10" y="115.40" font-size="6.4" font-style="italic" fill="#1a1a1a" stroke="#1a1a1a" stroke-width="0.06">P. apivorus</text><circle cx="271.10" cy="134.00" r="1.85" fill="#000"/><text x="251.30" y="130.00" font-size="6.4" font-style="italic" fill="#1a1a1a" stroke="#1a1a1a" stroke-width="0.06">M. milvus</text><line x1="291.60" y1="131.50" x2="297.20" y2="125.30" stroke="#000" stroke-width="0.9"/><circle cx="291.60" cy="131.50" r="1.85" fill="#000"/><text x="287.80" y="124.60" font-size="6.4" font-style="italic" fill="#1a1a1a" stroke="#1a1a1a" stroke-width="0.06">B. virginianus</text><line x1="284.10" y1="139.50" x2="281.00" y2="144.00" stroke="#000" stroke-width="0.9"/><circle cx="284.10" cy="139.50" r="1.85" fill="#000"/><text x="260.30" y="149.90" font-size="6.4" font-style="italic" fill="#1a1a1a" stroke="#1a1a1a" stroke-width="0.06">H. albicilla</text><line x1="254.40" y1="145.10" x2="252.40" y2="151.40" stroke="#000" stroke-width="0.9"/><circle cx="254.40" cy="145.10" r="1.85" fill="#000"/><text x="223.80" y="155.10" font-size="6.4" font-style="italic" fill="#1a1a1a" stroke="#1a1a1a" stroke-width="0.06">C. atratus</text><line x1="280.50" y1="164.50" x2="283.70" y2="168.00" stroke="#000" stroke-width="0.9"/><circle cx="280.50" cy="164.50" r="1.85" fill="#000"/><text x="269.00" y="174.90" font-size="6.4" font-style="italic" fill="#1a1a1a" stroke="#1a1a1a" stroke-width="0.06">A. paradiseus</text><line x1="302.80" y1="142.00" x2="306.70" y2="146.30" stroke="#000" stroke-width="0.9"/><circle cx="302.80" cy="142.00" r="1.85" fill="#000"/><text x="299.30" y="152.60" font-size="6.4" font-style="italic" fill="#1a1a1a" stroke="#1a1a1a" stroke-width="0.06">P. adeliae</text><circle cx="369.60" cy="128.10" r="1.85" fill="#000"/><text x="352.90" y="123.60" font-size="6.4" font-style="italic" fill="#1a1a1a" stroke="#1a1a1a" stroke-width="0.06">S. occidentalis</text><circle cx="325.20" cy="138.00" r="1.85" fill="#000"/><text x="330.90" y="138.80" font-size="6.4" font-style="italic" fill="#1a1a1a" stroke="#1a1a1a" stroke-width="0.06">H. leucocephalus</text><line x1="381.00" y1="153.20" x2="377.60" y2="157.50" stroke="#000" stroke-width="0.9"/><circle cx="381.00" cy="153.20" r="1.85" fill="#000"/><text x="360.60" y="163.30" font-size="6.4" font-style="italic" fill="#1a1a1a" stroke="#1a1a1a" stroke-width="0.06">G. immer</text><line x1="500.80" y1="78.30" x2="505.10" y2="73.60" stroke="#000" stroke-width="0.9"/><circle cx="500.80" cy="78.30" r="1.85" fill="#000"/><text x="493.60" y="73.80" font-size="6.4" font-style="italic" fill="#1a1a1a" stroke="#1a1a1a" stroke-width="0.06">F. concolor</text><circle cx="495.50" cy="89.80" r="1.85" fill="#000"/><text x="470.50" y="98.20" font-size="6.4" font-style="italic" fill="#1a1a1a" stroke="#1a1a1a" stroke-width="0.06">N.nippon</text><line x1="469.30" y1="100.80" x2="468.10" y2="107.60" stroke="#000" stroke-width="0.9"/><circle cx="469.30" cy="100.80" r="1.85" fill="#000"/><text x="430.70" y="112.40" font-size="6.4" font-style="italic" fill="#1a1a1a" stroke="#1a1a1a" stroke-width="0.06">B. hagedash</text><line x1="521.60" y1="117.60" x2="519.40" y2="112.00" stroke="#000" stroke-width="0.9"/><circle cx="521.60" cy="117.60" r="1.85" fill="#000"/><text x="476.40" y="112.40" font-size="6.4" font-style="italic" fill="#1a1a1a" stroke="#1a1a1a" stroke-width="0.06">B. jamaicensis</text><line x1="530.40" y1="117.60" x2="534.80" y2="113.60" stroke="#000" stroke-width="0.9"/><circle cx="530.40" cy="117.60" r="1.85" fill="#000"/><text x="527.50" y="112.70" font-size="6.4" font-style="italic" fill="#1a1a1a" stroke="#1a1a1a" stroke-width="0.06">M. migrans</text><line x1="467.80" y1="139.40" x2="461.70" y2="132.60" stroke="#000" stroke-width="0.9"/><circle cx="467.80" cy="139.40" r="1.85" fill="#000"/><text x="443.60" y="131.90" font-size="6.4" font-style="italic" fill="#1a1a1a" stroke="#1a1a1a" stroke-width="0.06">B. buteo</text><line x1="530.80" y1="125.30" x2="528.60" y2="129.30" stroke="#000" stroke-width="0.9"/><circle cx="530.80" cy="125.30" r="1.85" fill="#000"/><text x="509.40" y="135.90" font-size="6.4" font-style="italic" fill="#1a1a1a" stroke="#1a1a1a" stroke-width="0.06">C. ciconia</text><line x1="551.10" y1="134.20" x2="559.50" y2="144.10" stroke="#000" stroke-width="0.9"/><circle cx="551.10" cy="134.20" r="1.85" fill="#000"/><text x="546.30" y="150.20" font-size="6.4" font-style="italic" fill="#1a1a1a" stroke="#1a1a1a" stroke-width="0.06">F. peregrinus</text><line x1="495.50" y1="150.40" x2="491.80" y2="146.00" stroke="#000" stroke-width="0.9"/><circle cx="495.50" cy="150.40" r="1.85" fill="#000"/><text x="471.50" y="145.90" font-size="6.4" font-style="italic" fill="#1a1a1a" stroke="#1a1a1a" stroke-width="0.06">B. solitarius</text><line x1="521.30" y1="142.30" x2="525.80" y2="151.10" stroke="#000" stroke-width="0.9"/><circle cx="521.30" cy="142.30" r="1.85" fill="#000"/><text x="514.30" y="156.80" font-size="6.4" font-style="italic" fill="#1a1a1a" stroke="#1a1a1a" stroke-width="0.06">A. vittata</text><line x1="513.80" y1="161.30" x2="517.60" y2="165.50" stroke="#000" stroke-width="0.9"/><circle cx="513.80" cy="161.30" r="1.85" fill="#000"/><text x="499.30" y="171.80" font-size="6.4" font-style="italic" fill="#1a1a1a" stroke="#1a1a1a" stroke-width="0.06">A. glaucogularis</text><line x1="128.70" y1="255.40" x2="125.50" y2="260.40" stroke="#000" stroke-width="0.9"/><circle cx="128.70" cy="255.40" r="1.85" fill="#000"/><text x="109.10" y="266.40" font-size="6.4" font-style="italic" fill="#1a1a1a" stroke="#1a1a1a" stroke-width="0.06">O. scops</text><line x1="152.90" y1="289.10" x2="157.20" y2="285.20" stroke="#000" stroke-width="0.9"/><circle cx="152.90" cy="289.10" r="1.85" fill="#000"/><text x="146.40" y="284.30" font-size="6.4" font-style="italic" fill="#1a1a1a" stroke="#1a1a1a" stroke-width="0.06">B. lineatus</text><line x1="155.20" y1="319.40" x2="151.90" y2="315.80" stroke="#000" stroke-width="0.9"/><circle cx="155.20" cy="319.40" r="1.85" fill="#000"/><text x="133.10" y="314.90" font-size="6.4" font-style="italic" fill="#1a1a1a" stroke="#1a1a1a" stroke-width="0.06">A. gentilis</text><line x1="170.20" y1="330.80" x2="173.50" y2="334.60" stroke="#000" stroke-width="0.9"/><circle cx="170.20" cy="330.80" r="1.85" fill="#000"/><text x="164.50" y="340.90" font-size="6.4" font-style="italic" fill="#1a1a1a" stroke="#1a1a1a" stroke-width="0.06">P. auritus</text><line x1="265.70" y1="300.20" x2="262.80" y2="296.60" stroke="#000" stroke-width="0.9"/><circle cx="265.70" cy="300.20" r="1.85" fill="#000"/><text x="235.40" y="295.20" font-size="6.4" font-style="italic" fill="#1a1a1a" stroke="#1a1a1a" stroke-width="0.06">A. caerulescens</text><line x1="276.80" y1="305.90" x2="280.00" y2="309.70" stroke="#000" stroke-width="0.9"/><circle cx="276.80" cy="305.90" r="1.85" fill="#000"/><text x="266.00" y="316.10" font-size="6.4" font-style="italic" fill="#1a1a1a" stroke="#1a1a1a" stroke-width="0.06">S. mollissima</text><line x1="269.60" y1="325.00" x2="266.30" y2="328.90" stroke="#000" stroke-width="0.9"/><circle cx="269.60" cy="325.00" r="1.85" fill="#000"/><text x="250.00" y="335.50" font-size="6.4" font-style="italic" fill="#1a1a1a" stroke="#1a1a1a" stroke-width="0.06">A. anser</text><line x1="371.50" y1="275.20" x2="375.80" y2="271.40" stroke="#000" stroke-width="0.9"/><circle cx="371.50" cy="275.20" r="1.85" fill="#000"/><text x="364.00" y="270.40" font-size="6.4" font-style="italic" fill="#1a1a1a" stroke="#1a1a1a" stroke-width="0.06">A. cooperi</text><line x1="353.30" y1="291.50" x2="356.70" y2="287.80" stroke="#000" stroke-width="0.9"/><circle cx="353.30" cy="291.50" r="1.85" fill="#000"/><text x="344.00" y="286.70" font-size="6.4" font-style="italic" fill="#1a1a1a" stroke="#1a1a1a" stroke-width="0.06">F. naumanni</text><line x1="344.00" y1="325.20" x2="340.30" y2="329.40" stroke="#000" stroke-width="0.9"/><circle cx="344.00" cy="325.20" r="1.85" fill="#000"/><text x="324.90" y="334.90" font-size="6.4" font-style="italic" fill="#1a1a1a" stroke="#1a1a1a" stroke-width="0.06">P. minor</text><line x1="560.20" y1="233.80" x2="562.50" y2="231.00" stroke="#000" stroke-width="0.9"/><circle cx="560.20" cy="233.80" r="1.85" fill="#000"/><text x="554.40" y="229.00" font-size="6.4" font-style="italic" fill="#1a1a1a" stroke="#1a1a1a" stroke-width="0.06">L. leucura</text><line x1="547.20" y1="289.10" x2="550.90" y2="285.20" stroke="#000" stroke-width="0.9"/><circle cx="547.20" cy="289.10" r="1.85" fill="#000"/><text x="545.10" y="284.30" font-size="6.4" font-style="italic" fill="#1a1a1a" stroke="#1a1a1a" stroke-width="0.06">L. muta</text><text x="597" y="174.6" font-size="8.9" fill="#1a1a1a">Net effect of</text><text x="597" y="185.4" font-size="8.9" fill="#1a1a1a">inbreeding depression</text><rect x="596.8" y="190.00" width="9.8" height="10" fill="#fff7dd"/><circle cx="601.7" cy="194.90" r="1.8" fill="#000"/><text x="611.4" y="197.60" font-size="7.4" fill="#1a1a1a" stroke="#1a1a1a" stroke-width="0.1">0.00</text><rect x="596.8" y="199.95" width="9.8" height="10" fill="#fdd3a5"/><circle cx="601.7" cy="204.85" r="1.8" fill="#000"/><text x="611.4" y="207.55" font-size="7.4" fill="#1a1a1a" stroke="#1a1a1a" stroke-width="0.1">0.25</text><rect x="596.8" y="209.90" width="9.8" height="10" fill="#fcae6b"/><circle cx="601.7" cy="214.80" r="1.8" fill="#000"/><text x="611.4" y="217.50" font-size="7.4" fill="#1a1a1a" stroke="#1a1a1a" stroke-width="0.1">0.50</text><rect x="596.8" y="219.85" width="9.8" height="10" fill="#f98b3d"/><circle cx="601.7" cy="224.75" r="1.8" fill="#000"/><text x="611.4" y="227.45" font-size="7.4" fill="#1a1a1a" stroke="#1a1a1a" stroke-width="0.1">0.75</text><rect x="596.8" y="229.80" width="9.8" height="10" fill="#ec6a0e"/><circle cx="601.7" cy="234.70" r="1.8" fill="#000"/><text x="611.4" y="237.40" font-size="7.4" fill="#1a1a1a" stroke="#1a1a1a" stroke-width="0.1">1.00</text></svg>
</body></html>
